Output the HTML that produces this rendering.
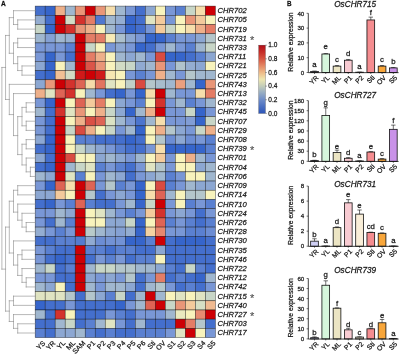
<!DOCTYPE html>
<html><head><meta charset="utf-8"><title>Figure</title>
<style>html,body{margin:0;padding:0;background:#fff}svg{display:block}text{stroke:#111;stroke-width:0.26px;stroke-opacity:0.8}</style></head>
<body>
<svg width="401" height="355" viewBox="0 0 401 355" font-family="'Liberation Sans', Arial, sans-serif" fill="#111">
<rect width="401" height="355" fill="#fff"/>
<g stroke="#000" stroke-opacity="0.6" stroke-width="0.6">
<rect x="35.20" y="6.10" width="10.01" height="9.21" fill="#446fcd"/>
<rect x="45.21" y="6.10" width="10.01" height="9.21" fill="#3665cb"/>
<rect x="55.22" y="6.10" width="10.01" height="9.21" fill="#eeb08a"/>
<rect x="65.23" y="6.10" width="10.01" height="9.21" fill="#a0b7cf"/>
<rect x="75.24" y="6.10" width="10.01" height="9.21" fill="#e99678"/>
<rect x="85.26" y="6.10" width="10.01" height="9.21" fill="#cd0005"/>
<rect x="95.27" y="6.10" width="10.01" height="9.21" fill="#e99678"/>
<rect x="105.28" y="6.10" width="10.01" height="9.21" fill="#f6deac"/>
<rect x="115.29" y="6.10" width="10.01" height="9.21" fill="#a0b7cf"/>
<rect x="125.30" y="6.10" width="10.01" height="9.21" fill="#7997d6"/>
<rect x="135.31" y="6.10" width="10.01" height="9.21" fill="#446fcd"/>
<rect x="145.32" y="6.10" width="10.01" height="9.21" fill="#8ca7d2"/>
<rect x="155.33" y="6.10" width="10.01" height="9.21" fill="#f8f3bc"/>
<rect x="165.34" y="6.10" width="10.01" height="9.21" fill="#7997d6"/>
<rect x="175.36" y="6.10" width="10.01" height="9.21" fill="#5a80d1"/>
<rect x="185.37" y="6.10" width="10.01" height="9.21" fill="#c8d6c7"/>
<rect x="195.38" y="6.10" width="10.01" height="9.21" fill="#f6deac"/>
<rect x="205.39" y="6.10" width="10.01" height="9.21" fill="#cd0005"/>
<rect x="35.20" y="15.31" width="10.01" height="9.21" fill="#94add1"/>
<rect x="45.21" y="15.31" width="10.01" height="9.21" fill="#446fcd"/>
<rect x="55.22" y="15.31" width="10.01" height="9.21" fill="#cd0005"/>
<rect x="65.23" y="15.31" width="10.01" height="9.21" fill="#d2dcc5"/>
<rect x="75.24" y="15.31" width="10.01" height="9.21" fill="#d4322d"/>
<rect x="85.26" y="15.31" width="10.01" height="9.21" fill="#e47d66"/>
<rect x="95.27" y="15.31" width="10.01" height="9.21" fill="#5078cf"/>
<rect x="105.28" y="15.31" width="10.01" height="9.21" fill="#a0b7cf"/>
<rect x="115.29" y="15.31" width="10.01" height="9.21" fill="#94add1"/>
<rect x="125.30" y="15.31" width="10.01" height="9.21" fill="#3665cb"/>
<rect x="135.31" y="15.31" width="10.01" height="9.21" fill="#446fcd"/>
<rect x="145.32" y="15.31" width="10.01" height="9.21" fill="#e0e4c2"/>
<rect x="155.33" y="15.31" width="10.01" height="9.21" fill="#f3ca9c"/>
<rect x="165.34" y="15.31" width="10.01" height="9.21" fill="#7997d6"/>
<rect x="175.36" y="15.31" width="10.01" height="9.21" fill="#f8f3bc"/>
<rect x="185.37" y="15.31" width="10.01" height="9.21" fill="#e99678"/>
<rect x="195.38" y="15.31" width="10.01" height="9.21" fill="#f3ca9c"/>
<rect x="205.39" y="15.31" width="10.01" height="9.21" fill="#f8f3bc"/>
<rect x="35.20" y="24.52" width="10.01" height="9.21" fill="#c8d6c7"/>
<rect x="45.21" y="24.52" width="10.01" height="9.21" fill="#3665cb"/>
<rect x="55.22" y="24.52" width="10.01" height="9.21" fill="#cd0005"/>
<rect x="65.23" y="24.52" width="10.01" height="9.21" fill="#d4322d"/>
<rect x="75.24" y="24.52" width="10.01" height="9.21" fill="#e99678"/>
<rect x="85.26" y="24.52" width="10.01" height="9.21" fill="#eeb08a"/>
<rect x="95.27" y="24.52" width="10.01" height="9.21" fill="#f8f3bc"/>
<rect x="105.28" y="24.52" width="10.01" height="9.21" fill="#a0b7cf"/>
<rect x="115.29" y="24.52" width="10.01" height="9.21" fill="#7997d6"/>
<rect x="125.30" y="24.52" width="10.01" height="9.21" fill="#3665cb"/>
<rect x="135.31" y="24.52" width="10.01" height="9.21" fill="#446fcd"/>
<rect x="145.32" y="24.52" width="10.01" height="9.21" fill="#7997d6"/>
<rect x="155.33" y="24.52" width="10.01" height="9.21" fill="#f3ca9c"/>
<rect x="165.34" y="24.52" width="10.01" height="9.21" fill="#c8d6c7"/>
<rect x="175.36" y="24.52" width="10.01" height="9.21" fill="#f8f3bc"/>
<rect x="185.37" y="24.52" width="10.01" height="9.21" fill="#f6deac"/>
<rect x="195.38" y="24.52" width="10.01" height="9.21" fill="#eeb08a"/>
<rect x="205.39" y="24.52" width="10.01" height="9.21" fill="#e47d66"/>
<rect x="35.20" y="33.73" width="10.01" height="9.21" fill="#a0b7cf"/>
<rect x="45.21" y="33.73" width="10.01" height="9.21" fill="#85a1d4"/>
<rect x="55.22" y="33.73" width="10.01" height="9.21" fill="#a0b7cf"/>
<rect x="65.23" y="33.73" width="10.01" height="9.21" fill="#98b1d0"/>
<rect x="75.24" y="33.73" width="10.01" height="9.21" fill="#cd0005"/>
<rect x="85.26" y="33.73" width="10.01" height="9.21" fill="#e47d66"/>
<rect x="95.27" y="33.73" width="10.01" height="9.21" fill="#e47d66"/>
<rect x="105.28" y="33.73" width="10.01" height="9.21" fill="#f7ebb6"/>
<rect x="115.29" y="33.73" width="10.01" height="9.21" fill="#acc0cd"/>
<rect x="125.30" y="33.73" width="10.01" height="9.21" fill="#8ca7d2"/>
<rect x="135.31" y="33.73" width="10.01" height="9.21" fill="#7997d6"/>
<rect x="145.32" y="33.73" width="10.01" height="9.21" fill="#3665cb"/>
<rect x="155.33" y="33.73" width="10.01" height="9.21" fill="#3665cb"/>
<rect x="165.34" y="33.73" width="10.01" height="9.21" fill="#5a80d1"/>
<rect x="175.36" y="33.73" width="10.01" height="9.21" fill="#7997d6"/>
<rect x="185.37" y="33.73" width="10.01" height="9.21" fill="#7997d6"/>
<rect x="195.38" y="33.73" width="10.01" height="9.21" fill="#8ca7d2"/>
<rect x="205.39" y="33.73" width="10.01" height="9.21" fill="#b4c6cb"/>
<rect x="35.20" y="42.93" width="10.01" height="9.21" fill="#7997d6"/>
<rect x="45.21" y="42.93" width="10.01" height="9.21" fill="#7997d6"/>
<rect x="55.22" y="42.93" width="10.01" height="9.21" fill="#7997d6"/>
<rect x="65.23" y="42.93" width="10.01" height="9.21" fill="#5a80d1"/>
<rect x="75.24" y="42.93" width="10.01" height="9.21" fill="#cd0005"/>
<rect x="85.26" y="42.93" width="10.01" height="9.21" fill="#c8d6c7"/>
<rect x="95.27" y="42.93" width="10.01" height="9.21" fill="#f8f3bc"/>
<rect x="105.28" y="42.93" width="10.01" height="9.21" fill="#7997d6"/>
<rect x="115.29" y="42.93" width="10.01" height="9.21" fill="#8ca7d2"/>
<rect x="125.30" y="42.93" width="10.01" height="9.21" fill="#7997d6"/>
<rect x="135.31" y="42.93" width="10.01" height="9.21" fill="#3665cb"/>
<rect x="145.32" y="42.93" width="10.01" height="9.21" fill="#446fcd"/>
<rect x="155.33" y="42.93" width="10.01" height="9.21" fill="#7997d6"/>
<rect x="165.34" y="42.93" width="10.01" height="9.21" fill="#a0b7cf"/>
<rect x="175.36" y="42.93" width="10.01" height="9.21" fill="#7997d6"/>
<rect x="185.37" y="42.93" width="10.01" height="9.21" fill="#5a80d1"/>
<rect x="195.38" y="42.93" width="10.01" height="9.21" fill="#a0b7cf"/>
<rect x="205.39" y="42.93" width="10.01" height="9.21" fill="#c8d6c7"/>
<rect x="35.20" y="52.14" width="10.01" height="9.21" fill="#7997d6"/>
<rect x="45.21" y="52.14" width="10.01" height="9.21" fill="#3665cb"/>
<rect x="55.22" y="52.14" width="10.01" height="9.21" fill="#7997d6"/>
<rect x="65.23" y="52.14" width="10.01" height="9.21" fill="#446fcd"/>
<rect x="75.24" y="52.14" width="10.01" height="9.21" fill="#cd0005"/>
<rect x="85.26" y="52.14" width="10.01" height="9.21" fill="#e47d66"/>
<rect x="95.27" y="52.14" width="10.01" height="9.21" fill="#eeb08a"/>
<rect x="105.28" y="52.14" width="10.01" height="9.21" fill="#f8f3bc"/>
<rect x="115.29" y="52.14" width="10.01" height="9.21" fill="#a0b7cf"/>
<rect x="125.30" y="52.14" width="10.01" height="9.21" fill="#8ca7d2"/>
<rect x="135.31" y="52.14" width="10.01" height="9.21" fill="#a0b7cf"/>
<rect x="145.32" y="52.14" width="10.01" height="9.21" fill="#7997d6"/>
<rect x="155.33" y="52.14" width="10.01" height="9.21" fill="#d94b41"/>
<rect x="165.34" y="52.14" width="10.01" height="9.21" fill="#3665cb"/>
<rect x="175.36" y="52.14" width="10.01" height="9.21" fill="#3665cb"/>
<rect x="185.37" y="52.14" width="10.01" height="9.21" fill="#446fcd"/>
<rect x="195.38" y="52.14" width="10.01" height="9.21" fill="#5a80d1"/>
<rect x="205.39" y="52.14" width="10.01" height="9.21" fill="#8ca7d2"/>
<rect x="35.20" y="61.35" width="10.01" height="9.21" fill="#8ca7d2"/>
<rect x="45.21" y="61.35" width="10.01" height="9.21" fill="#3665cb"/>
<rect x="55.22" y="61.35" width="10.01" height="9.21" fill="#f8f3bc"/>
<rect x="65.23" y="61.35" width="10.01" height="9.21" fill="#a0b7cf"/>
<rect x="75.24" y="61.35" width="10.01" height="9.21" fill="#cd0005"/>
<rect x="85.26" y="61.35" width="10.01" height="9.21" fill="#db5549"/>
<rect x="95.27" y="61.35" width="10.01" height="9.21" fill="#e99678"/>
<rect x="105.28" y="61.35" width="10.01" height="9.21" fill="#f8f3bc"/>
<rect x="115.29" y="61.35" width="10.01" height="9.21" fill="#d2dcc5"/>
<rect x="125.30" y="61.35" width="10.01" height="9.21" fill="#c8d6c7"/>
<rect x="135.31" y="61.35" width="10.01" height="9.21" fill="#90aad2"/>
<rect x="145.32" y="61.35" width="10.01" height="9.21" fill="#a0b7cf"/>
<rect x="155.33" y="61.35" width="10.01" height="9.21" fill="#e99678"/>
<rect x="165.34" y="61.35" width="10.01" height="9.21" fill="#7997d6"/>
<rect x="175.36" y="61.35" width="10.01" height="9.21" fill="#b0c3cc"/>
<rect x="185.37" y="61.35" width="10.01" height="9.21" fill="#94add1"/>
<rect x="195.38" y="61.35" width="10.01" height="9.21" fill="#8ca7d2"/>
<rect x="205.39" y="61.35" width="10.01" height="9.21" fill="#f8f3bc"/>
<rect x="35.20" y="70.56" width="10.01" height="9.21" fill="#446fcd"/>
<rect x="45.21" y="70.56" width="10.01" height="9.21" fill="#3665cb"/>
<rect x="55.22" y="70.56" width="10.01" height="9.21" fill="#f1c095"/>
<rect x="65.23" y="70.56" width="10.01" height="9.21" fill="#d2dcc5"/>
<rect x="75.24" y="70.56" width="10.01" height="9.21" fill="#d01919"/>
<rect x="85.26" y="70.56" width="10.01" height="9.21" fill="#cd0005"/>
<rect x="95.27" y="70.56" width="10.01" height="9.21" fill="#d01919"/>
<rect x="105.28" y="70.56" width="10.01" height="9.21" fill="#f6e7b2"/>
<rect x="115.29" y="70.56" width="10.01" height="9.21" fill="#f8f3bc"/>
<rect x="125.30" y="70.56" width="10.01" height="9.21" fill="#7997d6"/>
<rect x="135.31" y="70.56" width="10.01" height="9.21" fill="#5a80d1"/>
<rect x="145.32" y="70.56" width="10.01" height="9.21" fill="#7997d6"/>
<rect x="155.33" y="70.56" width="10.01" height="9.21" fill="#eeb08a"/>
<rect x="165.34" y="70.56" width="10.01" height="9.21" fill="#a0b7cf"/>
<rect x="175.36" y="70.56" width="10.01" height="9.21" fill="#7997d6"/>
<rect x="185.37" y="70.56" width="10.01" height="9.21" fill="#b4c6cb"/>
<rect x="195.38" y="70.56" width="10.01" height="9.21" fill="#a0b7cf"/>
<rect x="205.39" y="70.56" width="10.01" height="9.21" fill="#a0b7cf"/>
<rect x="35.20" y="79.77" width="10.01" height="9.21" fill="#8ca7d2"/>
<rect x="45.21" y="79.77" width="10.01" height="9.21" fill="#e99678"/>
<rect x="55.22" y="79.77" width="10.01" height="9.21" fill="#cd0005"/>
<rect x="65.23" y="79.77" width="10.01" height="9.21" fill="#d4322d"/>
<rect x="75.24" y="79.77" width="10.01" height="9.21" fill="#de6455"/>
<rect x="85.26" y="79.77" width="10.01" height="9.21" fill="#f5daa9"/>
<rect x="95.27" y="79.77" width="10.01" height="9.21" fill="#e17360"/>
<rect x="105.28" y="79.77" width="10.01" height="9.21" fill="#e0e4c2"/>
<rect x="115.29" y="79.77" width="10.01" height="9.21" fill="#f8f3bc"/>
<rect x="125.30" y="79.77" width="10.01" height="9.21" fill="#c0d0c9"/>
<rect x="135.31" y="79.77" width="10.01" height="9.21" fill="#d94b41"/>
<rect x="145.32" y="79.77" width="10.01" height="9.21" fill="#b4c6cb"/>
<rect x="155.33" y="79.77" width="10.01" height="9.21" fill="#a8bdcd"/>
<rect x="165.34" y="79.77" width="10.01" height="9.21" fill="#a0b7cf"/>
<rect x="175.36" y="79.77" width="10.01" height="9.21" fill="#eba07f"/>
<rect x="185.37" y="79.77" width="10.01" height="9.21" fill="#a0b7cf"/>
<rect x="195.38" y="79.77" width="10.01" height="9.21" fill="#3665cb"/>
<rect x="205.39" y="79.77" width="10.01" height="9.21" fill="#e99678"/>
<rect x="35.20" y="88.97" width="10.01" height="9.21" fill="#eeb08a"/>
<rect x="45.21" y="88.97" width="10.01" height="9.21" fill="#e0e4c2"/>
<rect x="55.22" y="88.97" width="10.01" height="9.21" fill="#de6455"/>
<rect x="65.23" y="88.97" width="10.01" height="9.21" fill="#d4322d"/>
<rect x="75.24" y="88.97" width="10.01" height="9.21" fill="#f8f3bc"/>
<rect x="85.26" y="88.97" width="10.01" height="9.21" fill="#a0b7cf"/>
<rect x="95.27" y="88.97" width="10.01" height="9.21" fill="#7997d6"/>
<rect x="105.28" y="88.97" width="10.01" height="9.21" fill="#446fcd"/>
<rect x="115.29" y="88.97" width="10.01" height="9.21" fill="#3665cb"/>
<rect x="125.30" y="88.97" width="10.01" height="9.21" fill="#7997d6"/>
<rect x="135.31" y="88.97" width="10.01" height="9.21" fill="#3665cb"/>
<rect x="145.32" y="88.97" width="10.01" height="9.21" fill="#f6deac"/>
<rect x="155.33" y="88.97" width="10.01" height="9.21" fill="#cd0005"/>
<rect x="165.34" y="88.97" width="10.01" height="9.21" fill="#a0b7cf"/>
<rect x="175.36" y="88.97" width="10.01" height="9.21" fill="#7997d6"/>
<rect x="185.37" y="88.97" width="10.01" height="9.21" fill="#7997d6"/>
<rect x="195.38" y="88.97" width="10.01" height="9.21" fill="#f6deac"/>
<rect x="205.39" y="88.97" width="10.01" height="9.21" fill="#e47d66"/>
<rect x="35.20" y="98.18" width="10.01" height="9.21" fill="#7997d6"/>
<rect x="45.21" y="98.18" width="10.01" height="9.21" fill="#3665cb"/>
<rect x="55.22" y="98.18" width="10.01" height="9.21" fill="#cd0005"/>
<rect x="65.23" y="98.18" width="10.01" height="9.21" fill="#f8f3bc"/>
<rect x="75.24" y="98.18" width="10.01" height="9.21" fill="#de6455"/>
<rect x="85.26" y="98.18" width="10.01" height="9.21" fill="#f3ca9c"/>
<rect x="95.27" y="98.18" width="10.01" height="9.21" fill="#e47d66"/>
<rect x="105.28" y="98.18" width="10.01" height="9.21" fill="#f8f3bc"/>
<rect x="115.29" y="98.18" width="10.01" height="9.21" fill="#8ca7d2"/>
<rect x="125.30" y="98.18" width="10.01" height="9.21" fill="#7997d6"/>
<rect x="135.31" y="98.18" width="10.01" height="9.21" fill="#5a80d1"/>
<rect x="145.32" y="98.18" width="10.01" height="9.21" fill="#f8f3bc"/>
<rect x="155.33" y="98.18" width="10.01" height="9.21" fill="#d4322d"/>
<rect x="165.34" y="98.18" width="10.01" height="9.21" fill="#7997d6"/>
<rect x="175.36" y="98.18" width="10.01" height="9.21" fill="#a0b7cf"/>
<rect x="185.37" y="98.18" width="10.01" height="9.21" fill="#5a80d1"/>
<rect x="195.38" y="98.18" width="10.01" height="9.21" fill="#7997d6"/>
<rect x="205.39" y="98.18" width="10.01" height="9.21" fill="#a0b7cf"/>
<rect x="35.20" y="107.39" width="10.01" height="9.21" fill="#a0b7cf"/>
<rect x="45.21" y="107.39" width="10.01" height="9.21" fill="#446fcd"/>
<rect x="55.22" y="107.39" width="10.01" height="9.21" fill="#d4322d"/>
<rect x="65.23" y="107.39" width="10.01" height="9.21" fill="#e0e4c2"/>
<rect x="75.24" y="107.39" width="10.01" height="9.21" fill="#e99678"/>
<rect x="85.26" y="107.39" width="10.01" height="9.21" fill="#f8f3bc"/>
<rect x="95.27" y="107.39" width="10.01" height="9.21" fill="#eeb08a"/>
<rect x="105.28" y="107.39" width="10.01" height="9.21" fill="#c8d6c7"/>
<rect x="115.29" y="107.39" width="10.01" height="9.21" fill="#8ca7d2"/>
<rect x="125.30" y="107.39" width="10.01" height="9.21" fill="#3665cb"/>
<rect x="135.31" y="107.39" width="10.01" height="9.21" fill="#a0b7cf"/>
<rect x="145.32" y="107.39" width="10.01" height="9.21" fill="#eeb08a"/>
<rect x="155.33" y="107.39" width="10.01" height="9.21" fill="#cd0005"/>
<rect x="165.34" y="107.39" width="10.01" height="9.21" fill="#7997d6"/>
<rect x="175.36" y="107.39" width="10.01" height="9.21" fill="#7997d6"/>
<rect x="185.37" y="107.39" width="10.01" height="9.21" fill="#c8d6c7"/>
<rect x="195.38" y="107.39" width="10.01" height="9.21" fill="#3665cb"/>
<rect x="205.39" y="107.39" width="10.01" height="9.21" fill="#7997d6"/>
<rect x="35.20" y="116.60" width="10.01" height="9.21" fill="#7997d6"/>
<rect x="45.21" y="116.60" width="10.01" height="9.21" fill="#446fcd"/>
<rect x="55.22" y="116.60" width="10.01" height="9.21" fill="#cd0005"/>
<rect x="65.23" y="116.60" width="10.01" height="9.21" fill="#f8f3bc"/>
<rect x="75.24" y="116.60" width="10.01" height="9.21" fill="#eeb08a"/>
<rect x="85.26" y="116.60" width="10.01" height="9.21" fill="#da5045"/>
<rect x="95.27" y="116.60" width="10.01" height="9.21" fill="#de6455"/>
<rect x="105.28" y="116.60" width="10.01" height="9.21" fill="#dbe2c3"/>
<rect x="115.29" y="116.60" width="10.01" height="9.21" fill="#a0b7cf"/>
<rect x="125.30" y="116.60" width="10.01" height="9.21" fill="#7997d6"/>
<rect x="135.31" y="116.60" width="10.01" height="9.21" fill="#4c75ce"/>
<rect x="145.32" y="116.60" width="10.01" height="9.21" fill="#a0b7cf"/>
<rect x="155.33" y="116.60" width="10.01" height="9.21" fill="#f6deac"/>
<rect x="165.34" y="116.60" width="10.01" height="9.21" fill="#7997d6"/>
<rect x="175.36" y="116.60" width="10.01" height="9.21" fill="#7997d6"/>
<rect x="185.37" y="116.60" width="10.01" height="9.21" fill="#819dd5"/>
<rect x="195.38" y="116.60" width="10.01" height="9.21" fill="#3665cb"/>
<rect x="205.39" y="116.60" width="10.01" height="9.21" fill="#c8d6c7"/>
<rect x="35.20" y="125.81" width="10.01" height="9.21" fill="#7997d6"/>
<rect x="45.21" y="125.81" width="10.01" height="9.21" fill="#446fcd"/>
<rect x="55.22" y="125.81" width="10.01" height="9.21" fill="#cd0005"/>
<rect x="65.23" y="125.81" width="10.01" height="9.21" fill="#c8d6c7"/>
<rect x="75.24" y="125.81" width="10.01" height="9.21" fill="#d94b41"/>
<rect x="85.26" y="125.81" width="10.01" height="9.21" fill="#eeb08a"/>
<rect x="95.27" y="125.81" width="10.01" height="9.21" fill="#f8f3bc"/>
<rect x="105.28" y="125.81" width="10.01" height="9.21" fill="#c8d6c7"/>
<rect x="115.29" y="125.81" width="10.01" height="9.21" fill="#7997d6"/>
<rect x="125.30" y="125.81" width="10.01" height="9.21" fill="#a0b7cf"/>
<rect x="135.31" y="125.81" width="10.01" height="9.21" fill="#3665cb"/>
<rect x="145.32" y="125.81" width="10.01" height="9.21" fill="#f8f3bc"/>
<rect x="155.33" y="125.81" width="10.01" height="9.21" fill="#eeb08a"/>
<rect x="165.34" y="125.81" width="10.01" height="9.21" fill="#b4c6cb"/>
<rect x="175.36" y="125.81" width="10.01" height="9.21" fill="#8ca7d2"/>
<rect x="185.37" y="125.81" width="10.01" height="9.21" fill="#7997d6"/>
<rect x="195.38" y="125.81" width="10.01" height="9.21" fill="#c8d6c7"/>
<rect x="205.39" y="125.81" width="10.01" height="9.21" fill="#eeb08a"/>
<rect x="35.20" y="135.02" width="10.01" height="9.21" fill="#8ca7d2"/>
<rect x="45.21" y="135.02" width="10.01" height="9.21" fill="#3665cb"/>
<rect x="55.22" y="135.02" width="10.01" height="9.21" fill="#cd0005"/>
<rect x="65.23" y="135.02" width="10.01" height="9.21" fill="#f8f3bc"/>
<rect x="75.24" y="135.02" width="10.01" height="9.21" fill="#5a80d1"/>
<rect x="85.26" y="135.02" width="10.01" height="9.21" fill="#5a80d1"/>
<rect x="95.27" y="135.02" width="10.01" height="9.21" fill="#446fcd"/>
<rect x="105.28" y="135.02" width="10.01" height="9.21" fill="#446fcd"/>
<rect x="115.29" y="135.02" width="10.01" height="9.21" fill="#446fcd"/>
<rect x="125.30" y="135.02" width="10.01" height="9.21" fill="#3665cb"/>
<rect x="135.31" y="135.02" width="10.01" height="9.21" fill="#446fcd"/>
<rect x="145.32" y="135.02" width="10.01" height="9.21" fill="#f8f3bc"/>
<rect x="155.33" y="135.02" width="10.01" height="9.21" fill="#b4c6cb"/>
<rect x="165.34" y="135.02" width="10.01" height="9.21" fill="#6c8dd4"/>
<rect x="175.36" y="135.02" width="10.01" height="9.21" fill="#8ca7d2"/>
<rect x="185.37" y="135.02" width="10.01" height="9.21" fill="#6c8dd4"/>
<rect x="195.38" y="135.02" width="10.01" height="9.21" fill="#7997d6"/>
<rect x="205.39" y="135.02" width="10.01" height="9.21" fill="#5a80d1"/>
<rect x="35.20" y="144.22" width="10.01" height="9.21" fill="#446fcd"/>
<rect x="45.21" y="144.22" width="10.01" height="9.21" fill="#3665cb"/>
<rect x="55.22" y="144.22" width="10.01" height="9.21" fill="#cd0005"/>
<rect x="65.23" y="144.22" width="10.01" height="9.21" fill="#f8f3bc"/>
<rect x="75.24" y="144.22" width="10.01" height="9.21" fill="#c8d6c7"/>
<rect x="85.26" y="144.22" width="10.01" height="9.21" fill="#a0b7cf"/>
<rect x="95.27" y="144.22" width="10.01" height="9.21" fill="#8ca7d2"/>
<rect x="105.28" y="144.22" width="10.01" height="9.21" fill="#7997d6"/>
<rect x="115.29" y="144.22" width="10.01" height="9.21" fill="#5a80d1"/>
<rect x="125.30" y="144.22" width="10.01" height="9.21" fill="#446fcd"/>
<rect x="135.31" y="144.22" width="10.01" height="9.21" fill="#446fcd"/>
<rect x="145.32" y="144.22" width="10.01" height="9.21" fill="#7997d6"/>
<rect x="155.33" y="144.22" width="10.01" height="9.21" fill="#f6deac"/>
<rect x="165.34" y="144.22" width="10.01" height="9.21" fill="#3665cb"/>
<rect x="175.36" y="144.22" width="10.01" height="9.21" fill="#3665cb"/>
<rect x="185.37" y="144.22" width="10.01" height="9.21" fill="#3665cb"/>
<rect x="195.38" y="144.22" width="10.01" height="9.21" fill="#3665cb"/>
<rect x="205.39" y="144.22" width="10.01" height="9.21" fill="#5a80d1"/>
<rect x="35.20" y="153.43" width="10.01" height="9.21" fill="#8ca7d2"/>
<rect x="45.21" y="153.43" width="10.01" height="9.21" fill="#446fcd"/>
<rect x="55.22" y="153.43" width="10.01" height="9.21" fill="#cd0005"/>
<rect x="65.23" y="153.43" width="10.01" height="9.21" fill="#d94b41"/>
<rect x="75.24" y="153.43" width="10.01" height="9.21" fill="#f8f3bc"/>
<rect x="85.26" y="153.43" width="10.01" height="9.21" fill="#f8f3bc"/>
<rect x="95.27" y="153.43" width="10.01" height="9.21" fill="#8ca7d2"/>
<rect x="105.28" y="153.43" width="10.01" height="9.21" fill="#a0b7cf"/>
<rect x="115.29" y="153.43" width="10.01" height="9.21" fill="#8ca7d2"/>
<rect x="125.30" y="153.43" width="10.01" height="9.21" fill="#7997d6"/>
<rect x="135.31" y="153.43" width="10.01" height="9.21" fill="#a0b7cf"/>
<rect x="145.32" y="153.43" width="10.01" height="9.21" fill="#f8f3bc"/>
<rect x="155.33" y="153.43" width="10.01" height="9.21" fill="#f3ca9c"/>
<rect x="165.34" y="153.43" width="10.01" height="9.21" fill="#7997d6"/>
<rect x="175.36" y="153.43" width="10.01" height="9.21" fill="#f8f3bc"/>
<rect x="185.37" y="153.43" width="10.01" height="9.21" fill="#eeb08a"/>
<rect x="195.38" y="153.43" width="10.01" height="9.21" fill="#a0b7cf"/>
<rect x="205.39" y="153.43" width="10.01" height="9.21" fill="#7997d6"/>
<rect x="35.20" y="162.64" width="10.01" height="9.21" fill="#446fcd"/>
<rect x="45.21" y="162.64" width="10.01" height="9.21" fill="#3665cb"/>
<rect x="55.22" y="162.64" width="10.01" height="9.21" fill="#cd0005"/>
<rect x="65.23" y="162.64" width="10.01" height="9.21" fill="#a0b7cf"/>
<rect x="75.24" y="162.64" width="10.01" height="9.21" fill="#c8d6c7"/>
<rect x="85.26" y="162.64" width="10.01" height="9.21" fill="#e0e4c2"/>
<rect x="95.27" y="162.64" width="10.01" height="9.21" fill="#5a80d1"/>
<rect x="105.28" y="162.64" width="10.01" height="9.21" fill="#7997d6"/>
<rect x="115.29" y="162.64" width="10.01" height="9.21" fill="#5a80d1"/>
<rect x="125.30" y="162.64" width="10.01" height="9.21" fill="#446fcd"/>
<rect x="135.31" y="162.64" width="10.01" height="9.21" fill="#7997d6"/>
<rect x="145.32" y="162.64" width="10.01" height="9.21" fill="#e0e4c2"/>
<rect x="155.33" y="162.64" width="10.01" height="9.21" fill="#b4c6cb"/>
<rect x="165.34" y="162.64" width="10.01" height="9.21" fill="#7997d6"/>
<rect x="175.36" y="162.64" width="10.01" height="9.21" fill="#f8f3bc"/>
<rect x="185.37" y="162.64" width="10.01" height="9.21" fill="#f8f3bc"/>
<rect x="195.38" y="162.64" width="10.01" height="9.21" fill="#8ca7d2"/>
<rect x="205.39" y="162.64" width="10.01" height="9.21" fill="#a0b7cf"/>
<rect x="35.20" y="171.85" width="10.01" height="9.21" fill="#a0b7cf"/>
<rect x="45.21" y="171.85" width="10.01" height="9.21" fill="#8ca7d2"/>
<rect x="55.22" y="171.85" width="10.01" height="9.21" fill="#cd0005"/>
<rect x="65.23" y="171.85" width="10.01" height="9.21" fill="#e0e4c2"/>
<rect x="75.24" y="171.85" width="10.01" height="9.21" fill="#5a80d1"/>
<rect x="85.26" y="171.85" width="10.01" height="9.21" fill="#f8f3bc"/>
<rect x="95.27" y="171.85" width="10.01" height="9.21" fill="#7997d6"/>
<rect x="105.28" y="171.85" width="10.01" height="9.21" fill="#a0b7cf"/>
<rect x="115.29" y="171.85" width="10.01" height="9.21" fill="#8ca7d2"/>
<rect x="125.30" y="171.85" width="10.01" height="9.21" fill="#446fcd"/>
<rect x="135.31" y="171.85" width="10.01" height="9.21" fill="#7997d6"/>
<rect x="145.32" y="171.85" width="10.01" height="9.21" fill="#8ca7d2"/>
<rect x="155.33" y="171.85" width="10.01" height="9.21" fill="#a0b7cf"/>
<rect x="165.34" y="171.85" width="10.01" height="9.21" fill="#5a80d1"/>
<rect x="175.36" y="171.85" width="10.01" height="9.21" fill="#7997d6"/>
<rect x="185.37" y="171.85" width="10.01" height="9.21" fill="#f8f3bc"/>
<rect x="195.38" y="171.85" width="10.01" height="9.21" fill="#f8f3bc"/>
<rect x="205.39" y="171.85" width="10.01" height="9.21" fill="#a0b7cf"/>
<rect x="35.20" y="181.06" width="10.01" height="9.21" fill="#7997d6"/>
<rect x="45.21" y="181.06" width="10.01" height="9.21" fill="#3665cb"/>
<rect x="55.22" y="181.06" width="10.01" height="9.21" fill="#de6455"/>
<rect x="65.23" y="181.06" width="10.01" height="9.21" fill="#f6deac"/>
<rect x="75.24" y="181.06" width="10.01" height="9.21" fill="#cd0005"/>
<rect x="85.26" y="181.06" width="10.01" height="9.21" fill="#de6455"/>
<rect x="95.27" y="181.06" width="10.01" height="9.21" fill="#7997d6"/>
<rect x="105.28" y="181.06" width="10.01" height="9.21" fill="#b4c6cb"/>
<rect x="115.29" y="181.06" width="10.01" height="9.21" fill="#5a80d1"/>
<rect x="125.30" y="181.06" width="10.01" height="9.21" fill="#7997d6"/>
<rect x="135.31" y="181.06" width="10.01" height="9.21" fill="#3665cb"/>
<rect x="145.32" y="181.06" width="10.01" height="9.21" fill="#f8f3bc"/>
<rect x="155.33" y="181.06" width="10.01" height="9.21" fill="#d94b41"/>
<rect x="165.34" y="181.06" width="10.01" height="9.21" fill="#5a80d1"/>
<rect x="175.36" y="181.06" width="10.01" height="9.21" fill="#7997d6"/>
<rect x="185.37" y="181.06" width="10.01" height="9.21" fill="#a0b7cf"/>
<rect x="195.38" y="181.06" width="10.01" height="9.21" fill="#8ca7d2"/>
<rect x="205.39" y="181.06" width="10.01" height="9.21" fill="#8ca7d2"/>
<rect x="35.20" y="190.27" width="10.01" height="9.21" fill="#8ca7d2"/>
<rect x="45.21" y="190.27" width="10.01" height="9.21" fill="#8ca7d2"/>
<rect x="55.22" y="190.27" width="10.01" height="9.21" fill="#f3ca9c"/>
<rect x="65.23" y="190.27" width="10.01" height="9.21" fill="#f8f3bc"/>
<rect x="75.24" y="190.27" width="10.01" height="9.21" fill="#cd0005"/>
<rect x="85.26" y="190.27" width="10.01" height="9.21" fill="#b4c6cb"/>
<rect x="95.27" y="190.27" width="10.01" height="9.21" fill="#446fcd"/>
<rect x="105.28" y="190.27" width="10.01" height="9.21" fill="#7997d6"/>
<rect x="115.29" y="190.27" width="10.01" height="9.21" fill="#8ca7d2"/>
<rect x="125.30" y="190.27" width="10.01" height="9.21" fill="#7997d6"/>
<rect x="135.31" y="190.27" width="10.01" height="9.21" fill="#3665cb"/>
<rect x="145.32" y="190.27" width="10.01" height="9.21" fill="#f6deac"/>
<rect x="155.33" y="190.27" width="10.01" height="9.21" fill="#de6455"/>
<rect x="165.34" y="190.27" width="10.01" height="9.21" fill="#a0b7cf"/>
<rect x="175.36" y="190.27" width="10.01" height="9.21" fill="#f8f3bc"/>
<rect x="185.37" y="190.27" width="10.01" height="9.21" fill="#b4c6cb"/>
<rect x="195.38" y="190.27" width="10.01" height="9.21" fill="#b4c6cb"/>
<rect x="205.39" y="190.27" width="10.01" height="9.21" fill="#f8f3bc"/>
<rect x="35.20" y="199.47" width="10.01" height="9.21" fill="#446fcd"/>
<rect x="45.21" y="199.47" width="10.01" height="9.21" fill="#3665cb"/>
<rect x="55.22" y="199.47" width="10.01" height="9.21" fill="#7997d6"/>
<rect x="65.23" y="199.47" width="10.01" height="9.21" fill="#5a80d1"/>
<rect x="75.24" y="199.47" width="10.01" height="9.21" fill="#de6455"/>
<rect x="85.26" y="199.47" width="10.01" height="9.21" fill="#5a80d1"/>
<rect x="95.27" y="199.47" width="10.01" height="9.21" fill="#446fcd"/>
<rect x="105.28" y="199.47" width="10.01" height="9.21" fill="#446fcd"/>
<rect x="115.29" y="199.47" width="10.01" height="9.21" fill="#7997d6"/>
<rect x="125.30" y="199.47" width="10.01" height="9.21" fill="#a0b7cf"/>
<rect x="135.31" y="199.47" width="10.01" height="9.21" fill="#3665cb"/>
<rect x="145.32" y="199.47" width="10.01" height="9.21" fill="#c8d6c7"/>
<rect x="155.33" y="199.47" width="10.01" height="9.21" fill="#cd0005"/>
<rect x="165.34" y="199.47" width="10.01" height="9.21" fill="#7997d6"/>
<rect x="175.36" y="199.47" width="10.01" height="9.21" fill="#f8f3bc"/>
<rect x="185.37" y="199.47" width="10.01" height="9.21" fill="#5a80d1"/>
<rect x="195.38" y="199.47" width="10.01" height="9.21" fill="#7997d6"/>
<rect x="205.39" y="199.47" width="10.01" height="9.21" fill="#5a80d1"/>
<rect x="35.20" y="208.68" width="10.01" height="9.21" fill="#7997d6"/>
<rect x="45.21" y="208.68" width="10.01" height="9.21" fill="#7997d6"/>
<rect x="55.22" y="208.68" width="10.01" height="9.21" fill="#a0b7cf"/>
<rect x="65.23" y="208.68" width="10.01" height="9.21" fill="#8ca7d2"/>
<rect x="75.24" y="208.68" width="10.01" height="9.21" fill="#cd0005"/>
<rect x="85.26" y="208.68" width="10.01" height="9.21" fill="#f8f3bc"/>
<rect x="95.27" y="208.68" width="10.01" height="9.21" fill="#e0e4c2"/>
<rect x="105.28" y="208.68" width="10.01" height="9.21" fill="#a0b7cf"/>
<rect x="115.29" y="208.68" width="10.01" height="9.21" fill="#7997d6"/>
<rect x="125.30" y="208.68" width="10.01" height="9.21" fill="#5a80d1"/>
<rect x="135.31" y="208.68" width="10.01" height="9.21" fill="#7997d6"/>
<rect x="145.32" y="208.68" width="10.01" height="9.21" fill="#f3ca9c"/>
<rect x="155.33" y="208.68" width="10.01" height="9.21" fill="#d4322d"/>
<rect x="165.34" y="208.68" width="10.01" height="9.21" fill="#7997d6"/>
<rect x="175.36" y="208.68" width="10.01" height="9.21" fill="#8ca7d2"/>
<rect x="185.37" y="208.68" width="10.01" height="9.21" fill="#7997d6"/>
<rect x="195.38" y="208.68" width="10.01" height="9.21" fill="#446fcd"/>
<rect x="205.39" y="208.68" width="10.01" height="9.21" fill="#7997d6"/>
<rect x="35.20" y="217.89" width="10.01" height="9.21" fill="#7997d6"/>
<rect x="45.21" y="217.89" width="10.01" height="9.21" fill="#446fcd"/>
<rect x="55.22" y="217.89" width="10.01" height="9.21" fill="#a0b7cf"/>
<rect x="65.23" y="217.89" width="10.01" height="9.21" fill="#5a80d1"/>
<rect x="75.24" y="217.89" width="10.01" height="9.21" fill="#cd0005"/>
<rect x="85.26" y="217.89" width="10.01" height="9.21" fill="#f8f3bc"/>
<rect x="95.27" y="217.89" width="10.01" height="9.21" fill="#f8f3bc"/>
<rect x="105.28" y="217.89" width="10.01" height="9.21" fill="#8ca7d2"/>
<rect x="115.29" y="217.89" width="10.01" height="9.21" fill="#8ca7d2"/>
<rect x="125.30" y="217.89" width="10.01" height="9.21" fill="#c8d6c7"/>
<rect x="135.31" y="217.89" width="10.01" height="9.21" fill="#3665cb"/>
<rect x="145.32" y="217.89" width="10.01" height="9.21" fill="#f8f3bc"/>
<rect x="155.33" y="217.89" width="10.01" height="9.21" fill="#de6455"/>
<rect x="165.34" y="217.89" width="10.01" height="9.21" fill="#5a80d1"/>
<rect x="175.36" y="217.89" width="10.01" height="9.21" fill="#7997d6"/>
<rect x="185.37" y="217.89" width="10.01" height="9.21" fill="#5a80d1"/>
<rect x="195.38" y="217.89" width="10.01" height="9.21" fill="#446fcd"/>
<rect x="205.39" y="217.89" width="10.01" height="9.21" fill="#5a80d1"/>
<rect x="35.20" y="227.10" width="10.01" height="9.21" fill="#94add1"/>
<rect x="45.21" y="227.10" width="10.01" height="9.21" fill="#7997d6"/>
<rect x="55.22" y="227.10" width="10.01" height="9.21" fill="#5a80d1"/>
<rect x="65.23" y="227.10" width="10.01" height="9.21" fill="#7997d6"/>
<rect x="75.24" y="227.10" width="10.01" height="9.21" fill="#cd0005"/>
<rect x="85.26" y="227.10" width="10.01" height="9.21" fill="#b8caca"/>
<rect x="95.27" y="227.10" width="10.01" height="9.21" fill="#a0b7cf"/>
<rect x="105.28" y="227.10" width="10.01" height="9.21" fill="#8ca7d2"/>
<rect x="115.29" y="227.10" width="10.01" height="9.21" fill="#85a1d4"/>
<rect x="125.30" y="227.10" width="10.01" height="9.21" fill="#94add1"/>
<rect x="135.31" y="227.10" width="10.01" height="9.21" fill="#3665cb"/>
<rect x="145.32" y="227.10" width="10.01" height="9.21" fill="#f4d2a2"/>
<rect x="155.33" y="227.10" width="10.01" height="9.21" fill="#e6876e"/>
<rect x="165.34" y="227.10" width="10.01" height="9.21" fill="#7997d6"/>
<rect x="175.36" y="227.10" width="10.01" height="9.21" fill="#7997d6"/>
<rect x="185.37" y="227.10" width="10.01" height="9.21" fill="#5a80d1"/>
<rect x="195.38" y="227.10" width="10.01" height="9.21" fill="#5a80d1"/>
<rect x="205.39" y="227.10" width="10.01" height="9.21" fill="#6c8dd4"/>
<rect x="35.20" y="236.31" width="10.01" height="9.21" fill="#446fcd"/>
<rect x="45.21" y="236.31" width="10.01" height="9.21" fill="#446fcd"/>
<rect x="55.22" y="236.31" width="10.01" height="9.21" fill="#5a80d1"/>
<rect x="65.23" y="236.31" width="10.01" height="9.21" fill="#5a80d1"/>
<rect x="75.24" y="236.31" width="10.01" height="9.21" fill="#557cd0"/>
<rect x="85.26" y="236.31" width="10.01" height="9.21" fill="#90aad2"/>
<rect x="95.27" y="236.31" width="10.01" height="9.21" fill="#6c8dd4"/>
<rect x="105.28" y="236.31" width="10.01" height="9.21" fill="#7292d5"/>
<rect x="115.29" y="236.31" width="10.01" height="9.21" fill="#7292d5"/>
<rect x="125.30" y="236.31" width="10.01" height="9.21" fill="#3665cb"/>
<rect x="135.31" y="236.31" width="10.01" height="9.21" fill="#3665cb"/>
<rect x="145.32" y="236.31" width="10.01" height="9.21" fill="#5a80d1"/>
<rect x="155.33" y="236.31" width="10.01" height="9.21" fill="#cd0005"/>
<rect x="165.34" y="236.31" width="10.01" height="9.21" fill="#446fcd"/>
<rect x="175.36" y="236.31" width="10.01" height="9.21" fill="#3665cb"/>
<rect x="185.37" y="236.31" width="10.01" height="9.21" fill="#3665cb"/>
<rect x="195.38" y="236.31" width="10.01" height="9.21" fill="#3665cb"/>
<rect x="205.39" y="236.31" width="10.01" height="9.21" fill="#446fcd"/>
<rect x="35.20" y="245.52" width="10.01" height="9.21" fill="#7997d6"/>
<rect x="45.21" y="245.52" width="10.01" height="9.21" fill="#5a80d1"/>
<rect x="55.22" y="245.52" width="10.01" height="9.21" fill="#446fcd"/>
<rect x="65.23" y="245.52" width="10.01" height="9.21" fill="#446fcd"/>
<rect x="75.24" y="245.52" width="10.01" height="9.21" fill="#cd0005"/>
<rect x="85.26" y="245.52" width="10.01" height="9.21" fill="#5a80d1"/>
<rect x="95.27" y="245.52" width="10.01" height="9.21" fill="#5a80d1"/>
<rect x="105.28" y="245.52" width="10.01" height="9.21" fill="#446fcd"/>
<rect x="115.29" y="245.52" width="10.01" height="9.21" fill="#5a80d1"/>
<rect x="125.30" y="245.52" width="10.01" height="9.21" fill="#5a80d1"/>
<rect x="135.31" y="245.52" width="10.01" height="9.21" fill="#446fcd"/>
<rect x="145.32" y="245.52" width="10.01" height="9.21" fill="#446fcd"/>
<rect x="155.33" y="245.52" width="10.01" height="9.21" fill="#8ca7d2"/>
<rect x="165.34" y="245.52" width="10.01" height="9.21" fill="#446fcd"/>
<rect x="175.36" y="245.52" width="10.01" height="9.21" fill="#446fcd"/>
<rect x="185.37" y="245.52" width="10.01" height="9.21" fill="#446fcd"/>
<rect x="195.38" y="245.52" width="10.01" height="9.21" fill="#446fcd"/>
<rect x="205.39" y="245.52" width="10.01" height="9.21" fill="#446fcd"/>
<rect x="35.20" y="254.73" width="10.01" height="9.21" fill="#7997d6"/>
<rect x="45.21" y="254.73" width="10.01" height="9.21" fill="#446fcd"/>
<rect x="55.22" y="254.73" width="10.01" height="9.21" fill="#3665cb"/>
<rect x="65.23" y="254.73" width="10.01" height="9.21" fill="#446fcd"/>
<rect x="75.24" y="254.73" width="10.01" height="9.21" fill="#cd0005"/>
<rect x="85.26" y="254.73" width="10.01" height="9.21" fill="#446fcd"/>
<rect x="95.27" y="254.73" width="10.01" height="9.21" fill="#7997d6"/>
<rect x="105.28" y="254.73" width="10.01" height="9.21" fill="#5a80d1"/>
<rect x="115.29" y="254.73" width="10.01" height="9.21" fill="#7997d6"/>
<rect x="125.30" y="254.73" width="10.01" height="9.21" fill="#446fcd"/>
<rect x="135.31" y="254.73" width="10.01" height="9.21" fill="#5a80d1"/>
<rect x="145.32" y="254.73" width="10.01" height="9.21" fill="#5a80d1"/>
<rect x="155.33" y="254.73" width="10.01" height="9.21" fill="#f8f3bc"/>
<rect x="165.34" y="254.73" width="10.01" height="9.21" fill="#446fcd"/>
<rect x="175.36" y="254.73" width="10.01" height="9.21" fill="#446fcd"/>
<rect x="185.37" y="254.73" width="10.01" height="9.21" fill="#446fcd"/>
<rect x="195.38" y="254.73" width="10.01" height="9.21" fill="#446fcd"/>
<rect x="205.39" y="254.73" width="10.01" height="9.21" fill="#446fcd"/>
<rect x="35.20" y="263.93" width="10.01" height="9.21" fill="#a0b7cf"/>
<rect x="45.21" y="263.93" width="10.01" height="9.21" fill="#c8d6c7"/>
<rect x="55.22" y="263.93" width="10.01" height="9.21" fill="#446fcd"/>
<rect x="65.23" y="263.93" width="10.01" height="9.21" fill="#5a80d1"/>
<rect x="75.24" y="263.93" width="10.01" height="9.21" fill="#cd0005"/>
<rect x="85.26" y="263.93" width="10.01" height="9.21" fill="#a0b7cf"/>
<rect x="95.27" y="263.93" width="10.01" height="9.21" fill="#c8d6c7"/>
<rect x="105.28" y="263.93" width="10.01" height="9.21" fill="#c8d6c7"/>
<rect x="115.29" y="263.93" width="10.01" height="9.21" fill="#b4c6cb"/>
<rect x="125.30" y="263.93" width="10.01" height="9.21" fill="#b4c6cb"/>
<rect x="135.31" y="263.93" width="10.01" height="9.21" fill="#a0b7cf"/>
<rect x="145.32" y="263.93" width="10.01" height="9.21" fill="#a0b7cf"/>
<rect x="155.33" y="263.93" width="10.01" height="9.21" fill="#8ca7d2"/>
<rect x="165.34" y="263.93" width="10.01" height="9.21" fill="#5a80d1"/>
<rect x="175.36" y="263.93" width="10.01" height="9.21" fill="#446fcd"/>
<rect x="185.37" y="263.93" width="10.01" height="9.21" fill="#c8d6c7"/>
<rect x="195.38" y="263.93" width="10.01" height="9.21" fill="#5a80d1"/>
<rect x="205.39" y="263.93" width="10.01" height="9.21" fill="#446fcd"/>
<rect x="35.20" y="273.14" width="10.01" height="9.21" fill="#7997d6"/>
<rect x="45.21" y="273.14" width="10.01" height="9.21" fill="#7997d6"/>
<rect x="55.22" y="273.14" width="10.01" height="9.21" fill="#446fcd"/>
<rect x="65.23" y="273.14" width="10.01" height="9.21" fill="#446fcd"/>
<rect x="75.24" y="273.14" width="10.01" height="9.21" fill="#cd0005"/>
<rect x="85.26" y="273.14" width="10.01" height="9.21" fill="#8ca7d2"/>
<rect x="95.27" y="273.14" width="10.01" height="9.21" fill="#7997d6"/>
<rect x="105.28" y="273.14" width="10.01" height="9.21" fill="#8ca7d2"/>
<rect x="115.29" y="273.14" width="10.01" height="9.21" fill="#7997d6"/>
<rect x="125.30" y="273.14" width="10.01" height="9.21" fill="#b4c6cb"/>
<rect x="135.31" y="273.14" width="10.01" height="9.21" fill="#446fcd"/>
<rect x="145.32" y="273.14" width="10.01" height="9.21" fill="#7997d6"/>
<rect x="155.33" y="273.14" width="10.01" height="9.21" fill="#e47d66"/>
<rect x="165.34" y="273.14" width="10.01" height="9.21" fill="#446fcd"/>
<rect x="175.36" y="273.14" width="10.01" height="9.21" fill="#5a80d1"/>
<rect x="185.37" y="273.14" width="10.01" height="9.21" fill="#446fcd"/>
<rect x="195.38" y="273.14" width="10.01" height="9.21" fill="#3665cb"/>
<rect x="205.39" y="273.14" width="10.01" height="9.21" fill="#a0b7cf"/>
<rect x="35.20" y="282.35" width="10.01" height="9.21" fill="#a0b7cf"/>
<rect x="45.21" y="282.35" width="10.01" height="9.21" fill="#8ca7d2"/>
<rect x="55.22" y="282.35" width="10.01" height="9.21" fill="#f8f3bc"/>
<rect x="65.23" y="282.35" width="10.01" height="9.21" fill="#446fcd"/>
<rect x="75.24" y="282.35" width="10.01" height="9.21" fill="#cd0005"/>
<rect x="85.26" y="282.35" width="10.01" height="9.21" fill="#a0b7cf"/>
<rect x="95.27" y="282.35" width="10.01" height="9.21" fill="#7997d6"/>
<rect x="105.28" y="282.35" width="10.01" height="9.21" fill="#a0b7cf"/>
<rect x="115.29" y="282.35" width="10.01" height="9.21" fill="#a0b7cf"/>
<rect x="125.30" y="282.35" width="10.01" height="9.21" fill="#8ca7d2"/>
<rect x="135.31" y="282.35" width="10.01" height="9.21" fill="#446fcd"/>
<rect x="145.32" y="282.35" width="10.01" height="9.21" fill="#a0b7cf"/>
<rect x="155.33" y="282.35" width="10.01" height="9.21" fill="#b4c6cb"/>
<rect x="165.34" y="282.35" width="10.01" height="9.21" fill="#7997d6"/>
<rect x="175.36" y="282.35" width="10.01" height="9.21" fill="#446fcd"/>
<rect x="185.37" y="282.35" width="10.01" height="9.21" fill="#5a80d1"/>
<rect x="195.38" y="282.35" width="10.01" height="9.21" fill="#446fcd"/>
<rect x="205.39" y="282.35" width="10.01" height="9.21" fill="#7997d6"/>
<rect x="35.20" y="291.56" width="10.01" height="9.21" fill="#e0e4c2"/>
<rect x="45.21" y="291.56" width="10.01" height="9.21" fill="#e0e4c2"/>
<rect x="55.22" y="291.56" width="10.01" height="9.21" fill="#e0e4c2"/>
<rect x="65.23" y="291.56" width="10.01" height="9.21" fill="#b4c6cb"/>
<rect x="75.24" y="291.56" width="10.01" height="9.21" fill="#446fcd"/>
<rect x="85.26" y="291.56" width="10.01" height="9.21" fill="#b4c6cb"/>
<rect x="95.27" y="291.56" width="10.01" height="9.21" fill="#8ca7d2"/>
<rect x="105.28" y="291.56" width="10.01" height="9.21" fill="#5a80d1"/>
<rect x="115.29" y="291.56" width="10.01" height="9.21" fill="#c8d6c7"/>
<rect x="125.30" y="291.56" width="10.01" height="9.21" fill="#446fcd"/>
<rect x="135.31" y="291.56" width="10.01" height="9.21" fill="#a0b7cf"/>
<rect x="145.32" y="291.56" width="10.01" height="9.21" fill="#cd0005"/>
<rect x="155.33" y="291.56" width="10.01" height="9.21" fill="#a0b7cf"/>
<rect x="165.34" y="291.56" width="10.01" height="9.21" fill="#f8f3bc"/>
<rect x="175.36" y="291.56" width="10.01" height="9.21" fill="#e0e4c2"/>
<rect x="185.37" y="291.56" width="10.01" height="9.21" fill="#f8f3bc"/>
<rect x="195.38" y="291.56" width="10.01" height="9.21" fill="#e0e4c2"/>
<rect x="205.39" y="291.56" width="10.01" height="9.21" fill="#c8d6c7"/>
<rect x="35.20" y="300.77" width="10.01" height="9.21" fill="#3665cb"/>
<rect x="45.21" y="300.77" width="10.01" height="9.21" fill="#446fcd"/>
<rect x="55.22" y="300.77" width="10.01" height="9.21" fill="#446fcd"/>
<rect x="65.23" y="300.77" width="10.01" height="9.21" fill="#7997d6"/>
<rect x="75.24" y="300.77" width="10.01" height="9.21" fill="#446fcd"/>
<rect x="85.26" y="300.77" width="10.01" height="9.21" fill="#446fcd"/>
<rect x="95.27" y="300.77" width="10.01" height="9.21" fill="#446fcd"/>
<rect x="105.28" y="300.77" width="10.01" height="9.21" fill="#446fcd"/>
<rect x="115.29" y="300.77" width="10.01" height="9.21" fill="#3665cb"/>
<rect x="125.30" y="300.77" width="10.01" height="9.21" fill="#7997d6"/>
<rect x="135.31" y="300.77" width="10.01" height="9.21" fill="#a0b7cf"/>
<rect x="145.32" y="300.77" width="10.01" height="9.21" fill="#de6455"/>
<rect x="155.33" y="300.77" width="10.01" height="9.21" fill="#cd0005"/>
<rect x="165.34" y="300.77" width="10.01" height="9.21" fill="#c8d6c7"/>
<rect x="175.36" y="300.77" width="10.01" height="9.21" fill="#e99678"/>
<rect x="185.37" y="300.77" width="10.01" height="9.21" fill="#f3ca9c"/>
<rect x="195.38" y="300.77" width="10.01" height="9.21" fill="#d6dfc4"/>
<rect x="205.39" y="300.77" width="10.01" height="9.21" fill="#f0ba91"/>
<rect x="35.20" y="309.98" width="10.01" height="9.21" fill="#a0b7cf"/>
<rect x="45.21" y="309.98" width="10.01" height="9.21" fill="#446fcd"/>
<rect x="55.22" y="309.98" width="10.01" height="9.21" fill="#d4322d"/>
<rect x="65.23" y="309.98" width="10.01" height="9.21" fill="#f8f3bc"/>
<rect x="75.24" y="309.98" width="10.01" height="9.21" fill="#446fcd"/>
<rect x="85.26" y="309.98" width="10.01" height="9.21" fill="#446fcd"/>
<rect x="95.27" y="309.98" width="10.01" height="9.21" fill="#446fcd"/>
<rect x="105.28" y="309.98" width="10.01" height="9.21" fill="#7997d6"/>
<rect x="115.29" y="309.98" width="10.01" height="9.21" fill="#5a80d1"/>
<rect x="125.30" y="309.98" width="10.01" height="9.21" fill="#446fcd"/>
<rect x="135.31" y="309.98" width="10.01" height="9.21" fill="#7997d6"/>
<rect x="145.32" y="309.98" width="10.01" height="9.21" fill="#7997d6"/>
<rect x="155.33" y="309.98" width="10.01" height="9.21" fill="#7997d6"/>
<rect x="165.34" y="309.98" width="10.01" height="9.21" fill="#a0b7cf"/>
<rect x="175.36" y="309.98" width="10.01" height="9.21" fill="#eaeabf"/>
<rect x="185.37" y="309.98" width="10.01" height="9.21" fill="#f8f3bc"/>
<rect x="195.38" y="309.98" width="10.01" height="9.21" fill="#e78c71"/>
<rect x="205.39" y="309.98" width="10.01" height="9.21" fill="#cd0005"/>
<rect x="35.20" y="319.18" width="10.01" height="9.21" fill="#446fcd"/>
<rect x="45.21" y="319.18" width="10.01" height="9.21" fill="#446fcd"/>
<rect x="55.22" y="319.18" width="10.01" height="9.21" fill="#a0b7cf"/>
<rect x="65.23" y="319.18" width="10.01" height="9.21" fill="#c8d6c7"/>
<rect x="75.24" y="319.18" width="10.01" height="9.21" fill="#446fcd"/>
<rect x="85.26" y="319.18" width="10.01" height="9.21" fill="#5a80d1"/>
<rect x="95.27" y="319.18" width="10.01" height="9.21" fill="#a0b7cf"/>
<rect x="105.28" y="319.18" width="10.01" height="9.21" fill="#e0e4c2"/>
<rect x="115.29" y="319.18" width="10.01" height="9.21" fill="#7997d6"/>
<rect x="125.30" y="319.18" width="10.01" height="9.21" fill="#446fcd"/>
<rect x="135.31" y="319.18" width="10.01" height="9.21" fill="#a0b7cf"/>
<rect x="145.32" y="319.18" width="10.01" height="9.21" fill="#446fcd"/>
<rect x="155.33" y="319.18" width="10.01" height="9.21" fill="#446fcd"/>
<rect x="165.34" y="319.18" width="10.01" height="9.21" fill="#446fcd"/>
<rect x="175.36" y="319.18" width="10.01" height="9.21" fill="#cd0005"/>
<rect x="185.37" y="319.18" width="10.01" height="9.21" fill="#e47d66"/>
<rect x="195.38" y="319.18" width="10.01" height="9.21" fill="#b4c6cb"/>
<rect x="205.39" y="319.18" width="10.01" height="9.21" fill="#446fcd"/>
<rect x="35.20" y="328.39" width="10.01" height="9.21" fill="#5a80d1"/>
<rect x="45.21" y="328.39" width="10.01" height="9.21" fill="#446fcd"/>
<rect x="55.22" y="328.39" width="10.01" height="9.21" fill="#8ca7d2"/>
<rect x="65.23" y="328.39" width="10.01" height="9.21" fill="#8ca7d2"/>
<rect x="75.24" y="328.39" width="10.01" height="9.21" fill="#a0b7cf"/>
<rect x="85.26" y="328.39" width="10.01" height="9.21" fill="#5a80d1"/>
<rect x="95.27" y="328.39" width="10.01" height="9.21" fill="#446fcd"/>
<rect x="105.28" y="328.39" width="10.01" height="9.21" fill="#5a80d1"/>
<rect x="115.29" y="328.39" width="10.01" height="9.21" fill="#446fcd"/>
<rect x="125.30" y="328.39" width="10.01" height="9.21" fill="#446fcd"/>
<rect x="135.31" y="328.39" width="10.01" height="9.21" fill="#5a80d1"/>
<rect x="145.32" y="328.39" width="10.01" height="9.21" fill="#5a80d1"/>
<rect x="155.33" y="328.39" width="10.01" height="9.21" fill="#5a80d1"/>
<rect x="165.34" y="328.39" width="10.01" height="9.21" fill="#7997d6"/>
<rect x="175.36" y="328.39" width="10.01" height="9.21" fill="#e0e4c2"/>
<rect x="185.37" y="328.39" width="10.01" height="9.21" fill="#cd0005"/>
<rect x="195.38" y="328.39" width="10.01" height="9.21" fill="#f8f3bc"/>
<rect x="205.39" y="328.39" width="10.01" height="9.21" fill="#7997d6"/>
</g>
<g font-size="7.6" font-style="italic">
<text x="217.6" y="13.15">CHR702</text>
<text x="217.6" y="22.36">CHR705</text>
<text x="217.6" y="31.57">CHR719</text>
<text x="217.6" y="40.78">CHR731</text>
<text x="249.9" y="43.93" font-style="normal" font-size="11" style="stroke:#555;stroke-width:0.2px;fill:#555">*</text>
<text x="217.6" y="49.99">CHR733</text>
<text x="217.6" y="59.20">CHR711</text>
<text x="217.6" y="68.40">CHR721</text>
<text x="217.6" y="77.61">CHR725</text>
<text x="217.6" y="86.82">CHR743</text>
<text x="217.6" y="96.03">CHR713</text>
<text x="217.6" y="105.24">CHR732</text>
<text x="217.6" y="114.45">CHR745</text>
<text x="217.6" y="123.65">CHR707</text>
<text x="217.6" y="132.86">CHR729</text>
<text x="217.6" y="142.07">CHR708</text>
<text x="217.6" y="151.28">CHR739</text>
<text x="249.9" y="154.43" font-style="normal" font-size="11" style="stroke:#555;stroke-width:0.2px;fill:#555">*</text>
<text x="217.6" y="160.49">CHR701</text>
<text x="217.6" y="169.70">CHR704</text>
<text x="217.6" y="178.90">CHR706</text>
<text x="217.6" y="188.11">CHR709</text>
<text x="217.6" y="197.32">CHR714</text>
<text x="217.6" y="206.53">CHR710</text>
<text x="217.6" y="215.74">CHR724</text>
<text x="217.6" y="224.95">CHR726</text>
<text x="217.6" y="234.15">CHR728</text>
<text x="217.6" y="243.36">CHR730</text>
<text x="217.6" y="252.57">CHR735</text>
<text x="217.6" y="261.78">CHR746</text>
<text x="217.6" y="270.99">CHR722</text>
<text x="217.6" y="280.20">CHR712</text>
<text x="217.6" y="289.40">CHR742</text>
<text x="217.6" y="298.61">CHR715</text>
<text x="249.9" y="301.76" font-style="normal" font-size="11" style="stroke:#555;stroke-width:0.2px;fill:#555">*</text>
<text x="217.6" y="307.82">CHR740</text>
<text x="217.6" y="317.03">CHR727</text>
<text x="249.9" y="320.18" font-style="normal" font-size="11" style="stroke:#555;stroke-width:0.2px;fill:#555">*</text>
<text x="217.6" y="326.24">CHR703</text>
<text x="217.6" y="335.45">CHR717</text>
</g>
<g font-size="7">
<text transform="translate(45.81,343.60) rotate(-45)" text-anchor="end" x="0" y="0">YS</text>
<text transform="translate(55.82,343.60) rotate(-45)" text-anchor="end" x="0" y="0">YR</text>
<text transform="translate(65.83,343.60) rotate(-45)" text-anchor="end" x="0" y="0">YL</text>
<text transform="translate(75.84,343.60) rotate(-45)" text-anchor="end" x="0" y="0">ML</text>
<text transform="translate(85.86,343.60) rotate(-45)" text-anchor="end" x="0" y="0">SAM</text>
<text transform="translate(95.87,343.60) rotate(-45)" text-anchor="end" x="0" y="0">P1</text>
<text transform="translate(105.88,343.60) rotate(-45)" text-anchor="end" x="0" y="0">P2</text>
<text transform="translate(115.89,343.60) rotate(-45)" text-anchor="end" x="0" y="0">P3</text>
<text transform="translate(125.90,343.60) rotate(-45)" text-anchor="end" x="0" y="0">P4</text>
<text transform="translate(135.91,343.60) rotate(-45)" text-anchor="end" x="0" y="0">P5</text>
<text transform="translate(145.92,343.60) rotate(-45)" text-anchor="end" x="0" y="0">P6</text>
<text transform="translate(155.93,343.60) rotate(-45)" text-anchor="end" x="0" y="0">Sti</text>
<text transform="translate(165.94,343.60) rotate(-45)" text-anchor="end" x="0" y="0">OV</text>
<text transform="translate(175.96,343.60) rotate(-45)" text-anchor="end" x="0" y="0">S1</text>
<text transform="translate(185.97,343.60) rotate(-45)" text-anchor="end" x="0" y="0">S2</text>
<text transform="translate(195.98,343.60) rotate(-45)" text-anchor="end" x="0" y="0">S3</text>
<text transform="translate(205.99,343.60) rotate(-45)" text-anchor="end" x="0" y="0">S4</text>
<text transform="translate(216.00,343.60) rotate(-45)" text-anchor="end" x="0" y="0">S5</text>
</g>
<g stroke="#8a8a8a" stroke-width="0.6" fill="none" stroke-linecap="square">
<line x1="13.50" y1="10.70" x2="35.20" y2="10.70"/>
<line x1="17.70" y1="19.91" x2="35.20" y2="19.91"/>
<line x1="17.70" y1="29.12" x2="35.20" y2="29.12"/>
<line x1="17.70" y1="19.91" x2="17.70" y2="29.12"/>
<line x1="13.50" y1="24.52" x2="17.70" y2="24.52"/>
<line x1="13.50" y1="10.70" x2="13.50" y2="24.52"/>
<line x1="9.30" y1="17.61" x2="13.50" y2="17.61"/>
<line x1="17.70" y1="38.33" x2="35.20" y2="38.33"/>
<line x1="17.70" y1="47.54" x2="35.20" y2="47.54"/>
<line x1="17.70" y1="38.33" x2="17.70" y2="47.54"/>
<line x1="13.50" y1="42.93" x2="17.70" y2="42.93"/>
<line x1="17.70" y1="56.75" x2="35.20" y2="56.75"/>
<line x1="22.00" y1="65.95" x2="35.20" y2="65.95"/>
<line x1="22.00" y1="75.16" x2="35.20" y2="75.16"/>
<line x1="22.00" y1="65.95" x2="22.00" y2="75.16"/>
<line x1="17.70" y1="70.56" x2="22.00" y2="70.56"/>
<line x1="17.70" y1="56.75" x2="17.70" y2="70.56"/>
<line x1="13.50" y1="63.65" x2="17.70" y2="63.65"/>
<line x1="13.50" y1="42.93" x2="13.50" y2="63.65"/>
<line x1="9.30" y1="53.29" x2="13.50" y2="53.29"/>
<line x1="9.30" y1="17.61" x2="9.30" y2="53.29"/>
<line x1="5.55" y1="35.45" x2="9.30" y2="35.45"/>
<line x1="9.30" y1="84.37" x2="35.20" y2="84.37"/>
<line x1="13.50" y1="93.58" x2="35.20" y2="93.58"/>
<line x1="26.20" y1="102.79" x2="35.20" y2="102.79"/>
<line x1="26.20" y1="112.00" x2="35.20" y2="112.00"/>
<line x1="26.20" y1="102.79" x2="26.20" y2="112.00"/>
<line x1="22.00" y1="107.39" x2="26.20" y2="107.39"/>
<line x1="26.20" y1="121.20" x2="35.20" y2="121.20"/>
<line x1="26.20" y1="130.41" x2="35.20" y2="130.41"/>
<line x1="26.20" y1="121.20" x2="26.20" y2="130.41"/>
<line x1="22.00" y1="125.81" x2="26.20" y2="125.81"/>
<line x1="22.00" y1="107.39" x2="22.00" y2="125.81"/>
<line x1="17.70" y1="116.60" x2="22.00" y2="116.60"/>
<line x1="26.20" y1="139.62" x2="35.20" y2="139.62"/>
<line x1="26.20" y1="148.83" x2="35.20" y2="148.83"/>
<line x1="26.20" y1="139.62" x2="26.20" y2="148.83"/>
<line x1="22.00" y1="144.23" x2="26.20" y2="144.23"/>
<line x1="26.20" y1="158.04" x2="35.20" y2="158.04"/>
<line x1="30.40" y1="167.25" x2="35.20" y2="167.25"/>
<line x1="30.40" y1="176.45" x2="35.20" y2="176.45"/>
<line x1="30.40" y1="167.25" x2="30.40" y2="176.45"/>
<line x1="26.20" y1="171.85" x2="30.40" y2="171.85"/>
<line x1="26.20" y1="158.04" x2="26.20" y2="171.85"/>
<line x1="22.00" y1="164.94" x2="26.20" y2="164.94"/>
<line x1="22.00" y1="144.23" x2="22.00" y2="164.94"/>
<line x1="17.70" y1="154.58" x2="22.00" y2="154.58"/>
<line x1="17.70" y1="116.60" x2="17.70" y2="154.58"/>
<line x1="13.50" y1="135.59" x2="17.70" y2="135.59"/>
<line x1="13.50" y1="93.58" x2="13.50" y2="135.59"/>
<line x1="9.30" y1="114.59" x2="13.50" y2="114.59"/>
<line x1="9.30" y1="84.37" x2="9.30" y2="114.59"/>
<line x1="5.55" y1="99.48" x2="9.30" y2="99.48"/>
<line x1="5.55" y1="35.45" x2="5.55" y2="99.48"/>
<line x1="1.90" y1="67.46" x2="5.55" y2="67.46"/>
<line x1="17.70" y1="185.66" x2="35.20" y2="185.66"/>
<line x1="17.70" y1="194.87" x2="35.20" y2="194.87"/>
<line x1="17.70" y1="185.66" x2="17.70" y2="194.87"/>
<line x1="13.50" y1="190.27" x2="17.70" y2="190.27"/>
<line x1="17.70" y1="204.08" x2="35.20" y2="204.08"/>
<line x1="22.00" y1="213.29" x2="35.20" y2="213.29"/>
<line x1="26.20" y1="222.50" x2="35.20" y2="222.50"/>
<line x1="26.20" y1="231.70" x2="35.20" y2="231.70"/>
<line x1="26.20" y1="222.50" x2="26.20" y2="231.70"/>
<line x1="22.00" y1="227.10" x2="26.20" y2="227.10"/>
<line x1="22.00" y1="213.29" x2="22.00" y2="227.10"/>
<line x1="17.70" y1="220.19" x2="22.00" y2="220.19"/>
<line x1="17.70" y1="204.08" x2="17.70" y2="220.19"/>
<line x1="13.50" y1="212.14" x2="17.70" y2="212.14"/>
<line x1="13.50" y1="190.27" x2="13.50" y2="212.14"/>
<line x1="9.30" y1="201.20" x2="13.50" y2="201.20"/>
<line x1="13.50" y1="240.91" x2="35.20" y2="240.91"/>
<line x1="22.00" y1="250.12" x2="35.20" y2="250.12"/>
<line x1="22.00" y1="259.33" x2="35.20" y2="259.33"/>
<line x1="22.00" y1="250.12" x2="22.00" y2="259.33"/>
<line x1="17.70" y1="254.73" x2="22.00" y2="254.73"/>
<line x1="22.00" y1="268.54" x2="35.20" y2="268.54"/>
<line x1="26.20" y1="277.75" x2="35.20" y2="277.75"/>
<line x1="26.20" y1="286.95" x2="35.20" y2="286.95"/>
<line x1="26.20" y1="277.75" x2="26.20" y2="286.95"/>
<line x1="22.00" y1="282.35" x2="26.20" y2="282.35"/>
<line x1="22.00" y1="268.54" x2="22.00" y2="282.35"/>
<line x1="17.70" y1="275.44" x2="22.00" y2="275.44"/>
<line x1="17.70" y1="254.73" x2="17.70" y2="275.44"/>
<line x1="13.50" y1="265.08" x2="17.70" y2="265.08"/>
<line x1="13.50" y1="240.91" x2="13.50" y2="265.08"/>
<line x1="9.30" y1="253.00" x2="13.50" y2="253.00"/>
<line x1="9.30" y1="201.20" x2="9.30" y2="253.00"/>
<line x1="5.55" y1="227.10" x2="9.30" y2="227.10"/>
<line x1="13.50" y1="296.16" x2="35.20" y2="296.16"/>
<line x1="13.50" y1="305.37" x2="35.20" y2="305.37"/>
<line x1="13.50" y1="296.16" x2="13.50" y2="305.37"/>
<line x1="9.30" y1="300.77" x2="13.50" y2="300.77"/>
<line x1="13.50" y1="314.58" x2="35.20" y2="314.58"/>
<line x1="17.70" y1="323.79" x2="35.20" y2="323.79"/>
<line x1="17.70" y1="333.00" x2="35.20" y2="333.00"/>
<line x1="17.70" y1="323.79" x2="17.70" y2="333.00"/>
<line x1="13.50" y1="328.39" x2="17.70" y2="328.39"/>
<line x1="13.50" y1="314.58" x2="13.50" y2="328.39"/>
<line x1="9.30" y1="321.49" x2="13.50" y2="321.49"/>
<line x1="9.30" y1="300.77" x2="9.30" y2="321.49"/>
<line x1="5.55" y1="311.13" x2="9.30" y2="311.13"/>
<line x1="5.55" y1="227.10" x2="5.55" y2="311.13"/>
<line x1="1.90" y1="269.11" x2="5.55" y2="269.11"/>
<line x1="1.90" y1="67.46" x2="1.90" y2="269.11"/>
</g>
<defs><linearGradient id="cb" x1="0" y1="1" x2="0" y2="0"><stop offset="0.0" stop-color="#2d55b9"/><stop offset="0.1" stop-color="#4b70c1"/><stop offset="0.2" stop-color="#6e8cc8"/><stop offset="0.3" stop-color="#96acc3"/><stop offset="0.4" stop-color="#c3cdb9"/><stop offset="0.5" stop-color="#eee6af"/><stop offset="0.6" stop-color="#eeb987"/><stop offset="0.7" stop-color="#e48764"/><stop offset="0.8" stop-color="#d75541"/><stop offset="0.9" stop-color="#c62d28"/><stop offset="1.0" stop-color="#b20f19"/></linearGradient></defs>
<rect x="258.7" y="45.2" width="6.7" height="68.2" fill="url(#cb)" stroke="#000" stroke-opacity="0.45" stroke-width="0.5"/>
<g font-size="6.5">
<line x1="265.4" y1="113.40" x2="266.8" y2="113.40" stroke="#333" stroke-width="0.5"/>
<text x="268.3" y="115.60">0.0</text>
<line x1="265.4" y1="99.76" x2="266.8" y2="99.76" stroke="#333" stroke-width="0.5"/>
<text x="268.3" y="101.96">0.2</text>
<line x1="265.4" y1="86.12" x2="266.8" y2="86.12" stroke="#333" stroke-width="0.5"/>
<text x="268.3" y="88.32">0.4</text>
<line x1="265.4" y1="72.48" x2="266.8" y2="72.48" stroke="#333" stroke-width="0.5"/>
<text x="268.3" y="74.68">0.6</text>
<line x1="265.4" y1="58.84" x2="266.8" y2="58.84" stroke="#333" stroke-width="0.5"/>
<text x="268.3" y="61.04">0.8</text>
<line x1="265.4" y1="45.20" x2="266.8" y2="45.20" stroke="#333" stroke-width="0.5"/>
<text x="268.3" y="47.40">1.0</text>
</g>
<text x="1.1" y="6.1" font-size="6.6" font-weight="bold">A</text>
<text x="287" y="6.3" font-size="6.3" font-weight="bold">B</text>
<text x="355.2" y="6.80" font-size="8.2" font-style="italic" text-anchor="middle">OsCHR715</text>
<text transform="translate(292.9,42.10) rotate(-90)" font-size="6.8" text-anchor="middle">Relative expression</text>
<rect x="310.65" y="71.46" width="7.7" height="1.04" fill="#cfcff4" stroke="#111" stroke-width="0.8"/>
<path d="M314.50 71.46V71.02M312.30 71.02H316.70" stroke="#111" stroke-width="0.6" fill="none"/>
<text x="314.50" y="67.40" font-size="7.8" text-anchor="middle">a</text>
<text transform="translate(318.90,78.20) rotate(-45)" font-size="6.8" text-anchor="end">YR</text>
<rect x="321.91" y="54.00" width="7.7" height="18.50" fill="#d6f6dc" stroke="#111" stroke-width="0.8"/>
<path d="M325.76 54.00V53.56M323.56 53.56H327.96" stroke="#111" stroke-width="0.6" fill="none"/>
<text x="325.76" y="49.20" font-size="7.8" text-anchor="middle">e</text>
<text transform="translate(330.16,78.20) rotate(-45)" font-size="6.8" text-anchor="end">YL</text>
<rect x="333.17" y="66.14" width="7.7" height="6.36" fill="#ece5c4" stroke="#111" stroke-width="0.8"/>
<path d="M337.02 66.14V65.54M334.82 65.54H339.22" stroke="#111" stroke-width="0.6" fill="none"/>
<text x="337.02" y="61.90" font-size="7.8" text-anchor="middle">c</text>
<text transform="translate(341.42,78.20) rotate(-45)" font-size="6.8" text-anchor="end">ML</text>
<rect x="344.43" y="60.22" width="7.7" height="12.28" fill="#f8cbd2" stroke="#111" stroke-width="0.8"/>
<path d="M348.28 60.22V59.48M346.08 59.48H350.48" stroke="#111" stroke-width="0.6" fill="none"/>
<text x="348.28" y="55.90" font-size="7.8" text-anchor="middle">d</text>
<text transform="translate(352.68,78.20) rotate(-45)" font-size="6.8" text-anchor="end">P1</text>
<rect x="355.69" y="72.20" width="7.7" height="0.30" fill="#f9eed8" stroke="#111" stroke-width="0.8"/>
<path d="M359.54 72.20V72.06M357.34 72.06H361.74" stroke="#111" stroke-width="0.6" fill="none"/>
<text x="359.54" y="69.00" font-size="7.8" text-anchor="middle">a</text>
<text transform="translate(363.94,78.20) rotate(-45)" font-size="6.8" text-anchor="end">P2</text>
<rect x="366.95" y="19.96" width="7.7" height="52.54" fill="#f58d90" stroke="#111" stroke-width="0.8"/>
<path d="M370.80 19.96V17.15M368.60 17.15H373.00" stroke="#111" stroke-width="0.6" fill="none"/>
<text x="370.80" y="15.20" font-size="7.8" text-anchor="middle">f</text>
<text transform="translate(375.20,78.20) rotate(-45)" font-size="6.8" text-anchor="end">Sti</text>
<rect x="378.21" y="66.14" width="7.7" height="6.36" fill="#f8a63a" stroke="#111" stroke-width="0.8"/>
<path d="M382.06 66.14V65.54M379.86 65.54H384.26" stroke="#111" stroke-width="0.6" fill="none"/>
<text x="382.06" y="61.90" font-size="7.8" text-anchor="middle">c</text>
<text transform="translate(386.46,78.20) rotate(-45)" font-size="6.8" text-anchor="end">OV</text>
<rect x="389.47" y="67.91" width="7.7" height="4.59" fill="#c992e8" stroke="#111" stroke-width="0.8"/>
<path d="M393.32 67.91V67.47M391.12 67.47H395.52" stroke="#111" stroke-width="0.6" fill="none"/>
<text x="393.32" y="63.50" font-size="7.8" text-anchor="middle">b</text>
<text transform="translate(397.72,78.20) rotate(-45)" font-size="6.8" text-anchor="end">S5</text>
<path d="M308.30 13.30V72.65H398.6" stroke="#111" stroke-width="0.8" fill="none"/>
<line x1="306.60" y1="72.50" x2="308.30" y2="72.50" stroke="#111" stroke-width="0.6"/>
<text x="304.30" y="74.75" font-size="6.2" text-anchor="end">0</text>
<line x1="306.60" y1="57.70" x2="308.30" y2="57.70" stroke="#111" stroke-width="0.6"/>
<text x="304.30" y="59.95" font-size="6.2" text-anchor="end">10</text>
<line x1="306.60" y1="42.90" x2="308.30" y2="42.90" stroke="#111" stroke-width="0.6"/>
<text x="304.30" y="45.15" font-size="6.2" text-anchor="end">20</text>
<line x1="306.60" y1="28.10" x2="308.30" y2="28.10" stroke="#111" stroke-width="0.6"/>
<text x="304.30" y="30.35" font-size="6.2" text-anchor="end">30</text>
<line x1="306.60" y1="13.30" x2="308.30" y2="13.30" stroke="#111" stroke-width="0.6"/>
<text x="304.30" y="15.55" font-size="6.2" text-anchor="end">40</text>
<line x1="314.50" y1="72.50" x2="314.50" y2="74.00" stroke="#111" stroke-width="0.6"/>
<line x1="325.76" y1="72.50" x2="325.76" y2="74.00" stroke="#111" stroke-width="0.6"/>
<line x1="337.02" y1="72.50" x2="337.02" y2="74.00" stroke="#111" stroke-width="0.6"/>
<line x1="348.28" y1="72.50" x2="348.28" y2="74.00" stroke="#111" stroke-width="0.6"/>
<line x1="359.54" y1="72.50" x2="359.54" y2="74.00" stroke="#111" stroke-width="0.6"/>
<line x1="370.80" y1="72.50" x2="370.80" y2="74.00" stroke="#111" stroke-width="0.6"/>
<line x1="382.06" y1="72.50" x2="382.06" y2="74.00" stroke="#111" stroke-width="0.6"/>
<line x1="393.32" y1="72.50" x2="393.32" y2="74.00" stroke="#111" stroke-width="0.6"/>
<text x="355.2" y="97.60" font-size="8.2" font-style="italic" text-anchor="middle">OsCHR727</text>
<text transform="translate(292.9,130.15) rotate(-90)" font-size="6.8" text-anchor="middle">Relative expression</text>
<rect x="310.65" y="160.63" width="7.7" height="0.67" fill="#cfcff4" stroke="#111" stroke-width="0.8"/>
<path d="M314.50 160.63V160.29M312.30 160.29H316.70" stroke="#111" stroke-width="0.6" fill="none"/>
<text x="314.50" y="156.90" font-size="7.8" text-anchor="middle">b</text>
<text transform="translate(318.90,167.00) rotate(-45)" font-size="6.8" text-anchor="end">YR</text>
<rect x="321.91" y="115.44" width="7.7" height="45.86" fill="#d6f6dc" stroke="#111" stroke-width="0.8"/>
<path d="M325.76 115.44V107.85M323.56 107.85H327.96" stroke="#111" stroke-width="0.6" fill="none"/>
<text x="325.76" y="104.70" font-size="7.8" text-anchor="middle">g</text>
<text transform="translate(330.16,167.00) rotate(-45)" font-size="6.8" text-anchor="end">YL</text>
<rect x="333.17" y="152.53" width="7.7" height="8.77" fill="#ece5c4" stroke="#111" stroke-width="0.8"/>
<path d="M337.02 152.53V150.17M334.82 150.17H339.22" stroke="#111" stroke-width="0.6" fill="none"/>
<text x="337.02" y="148.50" font-size="7.8" text-anchor="middle">e</text>
<text transform="translate(341.42,167.00) rotate(-45)" font-size="6.8" text-anchor="end">ML</text>
<rect x="344.43" y="158.27" width="7.7" height="3.04" fill="#f8cbd2" stroke="#111" stroke-width="0.8"/>
<path d="M348.28 158.27V157.59M346.08 157.59H350.48" stroke="#111" stroke-width="0.6" fill="none"/>
<text x="348.28" y="154.50" font-size="7.8" text-anchor="middle">d</text>
<text transform="translate(352.68,167.00) rotate(-45)" font-size="6.8" text-anchor="end">P1</text>
<rect x="355.69" y="160.96" width="7.7" height="0.34" fill="#f9eed8" stroke="#111" stroke-width="0.8"/>
<path d="M359.54 160.96V160.79M357.34 160.79H361.74" stroke="#111" stroke-width="0.6" fill="none"/>
<text x="359.54" y="158.00" font-size="7.8" text-anchor="middle">a</text>
<text transform="translate(363.94,167.00) rotate(-45)" font-size="6.8" text-anchor="end">P2</text>
<rect x="366.95" y="152.03" width="7.7" height="9.27" fill="#f58d90" stroke="#111" stroke-width="0.8"/>
<path d="M370.80 152.03V151.62M368.60 151.62H373.00" stroke="#111" stroke-width="0.6" fill="none"/>
<text x="370.80" y="149.20" font-size="7.8" text-anchor="middle">e</text>
<text transform="translate(375.20,167.00) rotate(-45)" font-size="6.8" text-anchor="end">Sti</text>
<rect x="378.21" y="159.11" width="7.7" height="2.19" fill="#f8a63a" stroke="#111" stroke-width="0.8"/>
<path d="M382.06 159.11V158.60M379.86 158.60H384.26" stroke="#111" stroke-width="0.6" fill="none"/>
<text x="382.06" y="155.70" font-size="7.8" text-anchor="middle">c</text>
<text transform="translate(386.46,167.00) rotate(-45)" font-size="6.8" text-anchor="end">OV</text>
<rect x="389.47" y="129.33" width="7.7" height="31.97" fill="#c992e8" stroke="#111" stroke-width="0.8"/>
<path d="M393.32 129.33V125.12M391.12 125.12H395.52" stroke="#111" stroke-width="0.6" fill="none"/>
<text x="393.32" y="123.30" font-size="7.8" text-anchor="middle">f</text>
<text transform="translate(397.72,167.00) rotate(-45)" font-size="6.8" text-anchor="end">S5</text>
<path d="M308.30 100.60V161.45H398.6" stroke="#111" stroke-width="0.8" fill="none"/>
<line x1="306.60" y1="161.30" x2="308.30" y2="161.30" stroke="#111" stroke-width="0.6"/>
<text x="304.30" y="163.55" font-size="6.2" text-anchor="end">0</text>
<line x1="306.60" y1="151.18" x2="308.30" y2="151.18" stroke="#111" stroke-width="0.6"/>
<text x="304.30" y="153.43" font-size="6.2" text-anchor="end">30</text>
<line x1="306.60" y1="141.07" x2="308.30" y2="141.07" stroke="#111" stroke-width="0.6"/>
<text x="304.30" y="143.32" font-size="6.2" text-anchor="end">60</text>
<line x1="306.60" y1="130.95" x2="308.30" y2="130.95" stroke="#111" stroke-width="0.6"/>
<text x="304.30" y="133.20" font-size="6.2" text-anchor="end">90</text>
<line x1="306.60" y1="120.83" x2="308.30" y2="120.83" stroke="#111" stroke-width="0.6"/>
<text x="304.30" y="123.08" font-size="6.2" text-anchor="end">120</text>
<line x1="306.60" y1="110.72" x2="308.30" y2="110.72" stroke="#111" stroke-width="0.6"/>
<text x="304.30" y="112.97" font-size="6.2" text-anchor="end">150</text>
<line x1="306.60" y1="100.60" x2="308.30" y2="100.60" stroke="#111" stroke-width="0.6"/>
<text x="304.30" y="102.85" font-size="6.2" text-anchor="end">180</text>
<line x1="314.50" y1="161.30" x2="314.50" y2="162.80" stroke="#111" stroke-width="0.6"/>
<line x1="325.76" y1="161.30" x2="325.76" y2="162.80" stroke="#111" stroke-width="0.6"/>
<line x1="337.02" y1="161.30" x2="337.02" y2="162.80" stroke="#111" stroke-width="0.6"/>
<line x1="348.28" y1="161.30" x2="348.28" y2="162.80" stroke="#111" stroke-width="0.6"/>
<line x1="359.54" y1="161.30" x2="359.54" y2="162.80" stroke="#111" stroke-width="0.6"/>
<line x1="370.80" y1="161.30" x2="370.80" y2="162.80" stroke="#111" stroke-width="0.6"/>
<line x1="382.06" y1="161.30" x2="382.06" y2="162.80" stroke="#111" stroke-width="0.6"/>
<line x1="393.32" y1="161.30" x2="393.32" y2="162.80" stroke="#111" stroke-width="0.6"/>
<text x="355.2" y="187.20" font-size="8.2" font-style="italic" text-anchor="middle">OsCHR731</text>
<text transform="translate(292.9,215.35) rotate(-90)" font-size="6.8" text-anchor="middle">Relative expression</text>
<rect x="310.65" y="241.17" width="7.7" height="5.03" fill="#cfcff4" stroke="#111" stroke-width="0.8"/>
<path d="M314.50 241.17V238.76M312.30 238.76H316.70" stroke="#111" stroke-width="0.6" fill="none"/>
<text x="314.50" y="236.90" font-size="7.8" text-anchor="middle">b</text>
<text transform="translate(318.90,251.90) rotate(-45)" font-size="6.8" text-anchor="end">YR</text>
<rect x="321.91" y="246.05" width="7.7" height="0.15" fill="#d6f6dc" stroke="#111" stroke-width="0.8"/>
<path d="M325.76 246.05V245.97M323.56 245.97H327.96" stroke="#111" stroke-width="0.6" fill="none"/>
<text x="325.76" y="242.90" font-size="7.8" text-anchor="middle">a</text>
<text transform="translate(330.16,251.90) rotate(-45)" font-size="6.8" text-anchor="end">YL</text>
<rect x="333.17" y="227.64" width="7.7" height="18.56" fill="#ece5c4" stroke="#111" stroke-width="0.8"/>
<path d="M337.02 227.64V226.89M334.82 226.89H339.22" stroke="#111" stroke-width="0.6" fill="none"/>
<text x="337.02" y="224.20" font-size="7.8" text-anchor="middle">d</text>
<text transform="translate(341.42,251.90) rotate(-45)" font-size="6.8" text-anchor="end">ML</text>
<rect x="344.43" y="202.85" width="7.7" height="43.35" fill="#f8cbd2" stroke="#111" stroke-width="0.8"/>
<path d="M348.28 202.85V199.62M346.08 199.62H350.48" stroke="#111" stroke-width="0.6" fill="none"/>
<text x="348.28" y="196.90" font-size="7.8" text-anchor="middle">e</text>
<text transform="translate(352.68,251.90) rotate(-45)" font-size="6.8" text-anchor="end">P1</text>
<rect x="355.69" y="214.12" width="7.7" height="32.08" fill="#f9eed8" stroke="#111" stroke-width="0.8"/>
<path d="M359.54 214.12V209.99M357.34 209.99H361.74" stroke="#111" stroke-width="0.6" fill="none"/>
<text x="359.54" y="208.10" font-size="7.8" text-anchor="middle">e</text>
<text transform="translate(363.94,251.90) rotate(-45)" font-size="6.8" text-anchor="end">P2</text>
<rect x="366.95" y="232.53" width="7.7" height="13.67" fill="#f58d90" stroke="#111" stroke-width="0.8"/>
<path d="M370.80 232.53V232.15M368.60 232.15H373.00" stroke="#111" stroke-width="0.6" fill="none"/>
<text x="370.80" y="228.50" font-size="7.8" text-anchor="middle">cd</text>
<text transform="translate(375.20,251.90) rotate(-45)" font-size="6.8" text-anchor="end">Sti</text>
<rect x="378.21" y="233.28" width="7.7" height="12.92" fill="#f8a63a" stroke="#111" stroke-width="0.8"/>
<path d="M382.06 233.28V232.90M379.86 232.90H384.26" stroke="#111" stroke-width="0.6" fill="none"/>
<text x="382.06" y="229.70" font-size="7.8" text-anchor="middle">c</text>
<text transform="translate(386.46,251.90) rotate(-45)" font-size="6.8" text-anchor="end">OV</text>
<rect x="389.47" y="246.05" width="7.7" height="0.15" fill="#c992e8" stroke="#111" stroke-width="0.8"/>
<path d="M393.32 246.05V245.97M391.12 245.97H395.52" stroke="#111" stroke-width="0.6" fill="none"/>
<text x="393.32" y="243.30" font-size="7.8" text-anchor="middle">a</text>
<text transform="translate(397.72,251.90) rotate(-45)" font-size="6.8" text-anchor="end">S5</text>
<path d="M308.30 186.10V246.35H398.6" stroke="#111" stroke-width="0.8" fill="none"/>
<line x1="306.60" y1="246.20" x2="308.30" y2="246.20" stroke="#111" stroke-width="0.6"/>
<text x="304.30" y="248.45" font-size="6.2" text-anchor="end">0</text>
<line x1="306.60" y1="231.17" x2="308.30" y2="231.17" stroke="#111" stroke-width="0.6"/>
<text x="304.30" y="233.42" font-size="6.2" text-anchor="end">2</text>
<line x1="306.60" y1="216.15" x2="308.30" y2="216.15" stroke="#111" stroke-width="0.6"/>
<text x="304.30" y="218.40" font-size="6.2" text-anchor="end">4</text>
<line x1="306.60" y1="201.12" x2="308.30" y2="201.12" stroke="#111" stroke-width="0.6"/>
<text x="304.30" y="203.38" font-size="6.2" text-anchor="end">6</text>
<line x1="306.60" y1="186.10" x2="308.30" y2="186.10" stroke="#111" stroke-width="0.6"/>
<text x="304.30" y="188.35" font-size="6.2" text-anchor="end">8</text>
<line x1="314.50" y1="246.20" x2="314.50" y2="247.70" stroke="#111" stroke-width="0.6"/>
<line x1="325.76" y1="246.20" x2="325.76" y2="247.70" stroke="#111" stroke-width="0.6"/>
<line x1="337.02" y1="246.20" x2="337.02" y2="247.70" stroke="#111" stroke-width="0.6"/>
<line x1="348.28" y1="246.20" x2="348.28" y2="247.70" stroke="#111" stroke-width="0.6"/>
<line x1="359.54" y1="246.20" x2="359.54" y2="247.70" stroke="#111" stroke-width="0.6"/>
<line x1="370.80" y1="246.20" x2="370.80" y2="247.70" stroke="#111" stroke-width="0.6"/>
<line x1="382.06" y1="246.20" x2="382.06" y2="247.70" stroke="#111" stroke-width="0.6"/>
<line x1="393.32" y1="246.20" x2="393.32" y2="247.70" stroke="#111" stroke-width="0.6"/>
<text x="355.2" y="272.70" font-size="8.2" font-style="italic" text-anchor="middle">OsCHR739</text>
<text transform="translate(292.9,307.90) rotate(-90)" font-size="6.8" text-anchor="middle">Relative expression</text>
<rect x="310.65" y="337.69" width="7.7" height="1.21" fill="#cfcff4" stroke="#111" stroke-width="0.8"/>
<path d="M314.50 337.69V336.89M312.30 336.89H316.70" stroke="#111" stroke-width="0.6" fill="none"/>
<text x="314.50" y="334.60" font-size="7.8" text-anchor="middle">b</text>
<text transform="translate(318.90,344.60) rotate(-45)" font-size="6.8" text-anchor="end">YR</text>
<rect x="321.91" y="285.24" width="7.7" height="53.66" fill="#d6f6dc" stroke="#111" stroke-width="0.8"/>
<path d="M325.76 285.24V280.82M323.56 280.82H327.96" stroke="#111" stroke-width="0.6" fill="none"/>
<text x="325.76" y="277.30" font-size="7.8" text-anchor="middle">g</text>
<text transform="translate(330.16,344.60) rotate(-45)" font-size="6.8" text-anchor="end">YL</text>
<rect x="333.17" y="308.20" width="7.7" height="30.70" fill="#ece5c4" stroke="#111" stroke-width="0.8"/>
<path d="M337.02 308.20V307.89M334.82 307.89H339.22" stroke="#111" stroke-width="0.6" fill="none"/>
<text x="337.02" y="306.30" font-size="7.8" text-anchor="middle">f</text>
<text transform="translate(341.42,344.60) rotate(-45)" font-size="6.8" text-anchor="end">ML</text>
<rect x="344.43" y="329.84" width="7.7" height="9.06" fill="#f8cbd2" stroke="#111" stroke-width="0.8"/>
<path d="M348.28 329.84V328.33M346.08 328.33H350.48" stroke="#111" stroke-width="0.6" fill="none"/>
<text x="348.28" y="326.70" font-size="7.8" text-anchor="middle">d</text>
<text transform="translate(352.68,344.60) rotate(-45)" font-size="6.8" text-anchor="end">P1</text>
<rect x="355.69" y="337.09" width="7.7" height="1.81" fill="#f9eed8" stroke="#111" stroke-width="0.8"/>
<path d="M359.54 337.09V336.79M357.34 336.79H361.74" stroke="#111" stroke-width="0.6" fill="none"/>
<text x="359.54" y="334.60" font-size="7.8" text-anchor="middle">c</text>
<text transform="translate(363.94,344.60) rotate(-45)" font-size="6.8" text-anchor="end">P2</text>
<rect x="366.95" y="328.83" width="7.7" height="10.07" fill="#f58d90" stroke="#111" stroke-width="0.8"/>
<path d="M370.80 328.83V328.23M368.60 328.23H373.00" stroke="#111" stroke-width="0.6" fill="none"/>
<text x="370.80" y="326.70" font-size="7.8" text-anchor="middle">d</text>
<text transform="translate(375.20,344.60) rotate(-45)" font-size="6.8" text-anchor="end">Sti</text>
<rect x="378.21" y="322.79" width="7.7" height="16.11" fill="#f8a63a" stroke="#111" stroke-width="0.8"/>
<path d="M382.06 322.79V319.47M379.86 319.47H384.26" stroke="#111" stroke-width="0.6" fill="none"/>
<text x="382.06" y="318.30" font-size="7.8" text-anchor="middle">e</text>
<text transform="translate(386.46,344.60) rotate(-45)" font-size="6.8" text-anchor="end">OV</text>
<rect x="389.47" y="338.60" width="7.7" height="0.30" fill="#c992e8" stroke="#111" stroke-width="0.8"/>
<path d="M393.32 338.60V338.45M391.12 338.45H395.52" stroke="#111" stroke-width="0.6" fill="none"/>
<text x="393.32" y="336.30" font-size="7.8" text-anchor="middle">a</text>
<text transform="translate(397.72,344.60) rotate(-45)" font-size="6.8" text-anchor="end">S5</text>
<path d="M308.30 278.50V339.05H398.6" stroke="#111" stroke-width="0.8" fill="none"/>
<line x1="306.60" y1="338.90" x2="308.30" y2="338.90" stroke="#111" stroke-width="0.6"/>
<text x="304.30" y="341.15" font-size="6.2" text-anchor="end">0</text>
<line x1="306.60" y1="328.83" x2="308.30" y2="328.83" stroke="#111" stroke-width="0.6"/>
<text x="304.30" y="331.08" font-size="6.2" text-anchor="end">10</text>
<line x1="306.60" y1="318.77" x2="308.30" y2="318.77" stroke="#111" stroke-width="0.6"/>
<text x="304.30" y="321.02" font-size="6.2" text-anchor="end">20</text>
<line x1="306.60" y1="308.70" x2="308.30" y2="308.70" stroke="#111" stroke-width="0.6"/>
<text x="304.30" y="310.95" font-size="6.2" text-anchor="end">30</text>
<line x1="306.60" y1="298.63" x2="308.30" y2="298.63" stroke="#111" stroke-width="0.6"/>
<text x="304.30" y="300.88" font-size="6.2" text-anchor="end">40</text>
<line x1="306.60" y1="288.57" x2="308.30" y2="288.57" stroke="#111" stroke-width="0.6"/>
<text x="304.30" y="290.82" font-size="6.2" text-anchor="end">50</text>
<line x1="306.60" y1="278.50" x2="308.30" y2="278.50" stroke="#111" stroke-width="0.6"/>
<text x="304.30" y="280.75" font-size="6.2" text-anchor="end">60</text>
<line x1="314.50" y1="338.90" x2="314.50" y2="340.40" stroke="#111" stroke-width="0.6"/>
<line x1="325.76" y1="338.90" x2="325.76" y2="340.40" stroke="#111" stroke-width="0.6"/>
<line x1="337.02" y1="338.90" x2="337.02" y2="340.40" stroke="#111" stroke-width="0.6"/>
<line x1="348.28" y1="338.90" x2="348.28" y2="340.40" stroke="#111" stroke-width="0.6"/>
<line x1="359.54" y1="338.90" x2="359.54" y2="340.40" stroke="#111" stroke-width="0.6"/>
<line x1="370.80" y1="338.90" x2="370.80" y2="340.40" stroke="#111" stroke-width="0.6"/>
<line x1="382.06" y1="338.90" x2="382.06" y2="340.40" stroke="#111" stroke-width="0.6"/>
<line x1="393.32" y1="338.90" x2="393.32" y2="340.40" stroke="#111" stroke-width="0.6"/>
</svg>
</body></html>
